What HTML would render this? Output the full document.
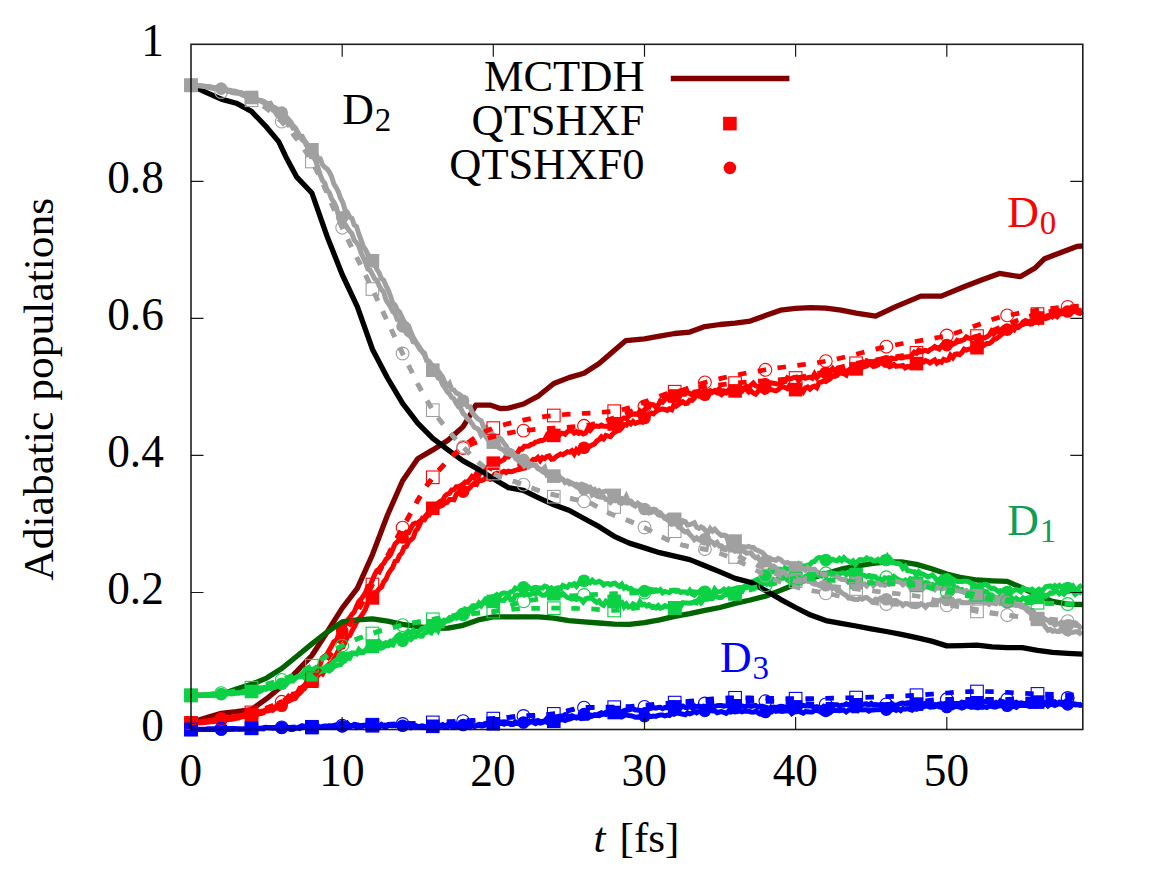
<!DOCTYPE html>
<html><head><meta charset="utf-8"><title>Adiabatic populations</title>
<style>html,body{margin:0;padding:0;background:#fff;}body{width:1163px;height:872px;overflow:hidden;position:relative;font-family:"Liberation Serif",serif;}</style></head>
<body>
<svg width="1163" height="872" viewBox="0 0 1163 872" style="position:absolute;left:0;top:0;display:block;font-kerning:none;font-variant-ligatures:none" font-family="'Liberation Serif', serif">
<rect x="0" y="0" width="1163" height="872" fill="#ffffff"/>
<defs><clipPath id="pc"><rect x="190.5" y="43.8" width="892.8" height="688.2"/></clipPath></defs>
<g id="solid">
<path d="M191.0,722.6 L206.1,717.9 L221.2,713.4 L236.3,711.7 L251.5,709.6 L266.6,698.7 L281.7,686.3 L296.8,671.3 L311.9,655.5 L327.0,632.2 L342.2,608.2 L357.3,588.3 L372.4,554.8 L387.5,515.0 L402.6,480.8 L417.7,458.8 L432.8,449.9 L448.0,440.3 L463.1,426.6 L469.1,416.8 L475.8,405.1 L490.0,405.1 L500.3,408.5 L508.4,408.1 L523.5,404.0 L538.7,395.8 L553.8,383.5 L568.9,377.6 L584.0,373.2 L599.1,363.6 L614.2,350.6 L625.9,340.6 L644.5,338.9 L659.6,336.2 L674.7,333.5 L689.8,332.1 L704.9,326.6 L720.0,324.5 L735.1,323.2 L750.3,321.1 L765.4,315.6 L780.5,310.2 L795.6,308.4 L810.7,307.6 L825.8,308.1 L841.0,310.2 L856.1,313.2 L875.6,316.2 L896.3,306.4 L920.8,296.1 L941.3,296.1 L963.4,287.0 L981.5,280.1 L999.4,273.4 L1020.1,276.7 L1035.5,267.7 L1044.6,258.7 L1061.6,252.2 L1076.8,246.4 L1082.8,246.0" fill="none" stroke="#800000" stroke-width="5.3" stroke-linejoin="round" stroke-linecap="butt"/>
<path d="M191.0,722.9 L193.3,723.0 L195.5,723.0 L197.8,722.9 L200.1,722.8 L202.3,722.7 L204.6,722.4 L206.9,722.3 L209.1,722.0 L211.4,721.7 L213.7,721.5 L215.9,721.2 L218.2,720.9 L220.5,720.5 L222.7,720.0 L225.0,720.0 L227.3,719.4 L229.5,719.5 L231.8,719.2 L234.1,718.9 L236.3,718.3 L238.6,718.1 L240.9,717.0 L243.1,716.5 L245.4,716.2 L247.7,717.1 L249.9,715.4 L252.2,715.0 L254.5,714.7 L256.8,714.9 L259.0,713.7 L261.3,713.5 L263.6,712.6 L265.8,710.1 L268.1,710.7 L270.4,709.1 L272.6,707.2 L274.9,707.2 L277.2,705.3 L279.4,704.4 L281.7,702.1 L284.0,702.2 L286.2,699.3 L288.5,696.4 L290.8,698.3 L293.0,694.0 L295.3,693.8 L297.6,692.5 L299.8,688.2 L302.1,688.2 L304.4,688.5 L306.6,685.6 L308.9,682.7 L311.2,682.6 L313.4,679.7 L315.7,678.9 L318.0,675.4 L320.2,672.7 L322.5,674.1 L324.8,670.0 L327.0,667.5 L329.3,663.8 L331.6,663.2 L333.8,659.2 L336.1,655.2 L338.4,650.4 L340.6,647.6 L342.9,646.9 L345.2,641.9 L347.4,636.7 L349.7,635.6 L352.0,630.8 L354.2,627.0 L356.5,622.3 L358.8,618.8 L361.0,616.3 L363.3,613.0 L365.6,608.9 L367.8,602.7 L370.1,600.8 L372.4,597.3 L374.7,593.6 L376.9,591.7 L379.2,588.8 L381.5,587.1 L383.7,581.8 L386.0,579.2 L388.3,573.6 L390.5,570.4 L392.8,567.2 L395.1,561.3 L397.3,560.5 L399.6,555.2 L401.9,552.9 L404.1,547.3 L406.4,546.4 L408.7,541.6 L410.9,539.9 L413.2,537.7 L415.5,531.0 L417.7,528.6 L420.0,523.9 L422.3,518.6 L424.5,519.6 L426.8,516.3 L429.1,513.4 L431.3,511.0 L433.6,509.4 L435.9,507.4 L438.1,503.2 L440.4,501.2 L442.7,500.4 L444.9,496.2 L447.2,494.2 L449.5,493.4 L451.7,489.9 L454.0,489.7 L456.3,486.7 L458.5,486.8 L460.8,485.7 L463.1,484.2 L465.3,482.0 L467.6,482.3 L469.9,479.4 L472.1,476.3 L474.4,477.8 L476.7,473.1 L478.9,475.1 L481.2,470.6 L483.5,471.1 L485.7,468.0 L488.0,467.0 L490.3,468.2 L492.5,463.5 L494.8,462.3 L497.1,463.8 L499.4,462.1 L501.6,460.7 L503.9,459.8 L506.2,456.0 L508.4,456.8 L510.7,454.4 L513.0,454.3 L515.2,453.3 L517.5,452.8 L519.8,448.9 L522.0,449.2 L524.3,446.2 L526.6,446.3 L528.8,446.0 L531.1,444.4 L533.4,443.9 L535.6,442.1 L537.9,441.6 L540.2,440.5 L542.4,440.6 L544.7,439.6 L547.0,435.2 L549.2,437.2 L551.5,436.9 L553.8,434.6 L556.0,433.7 L558.3,436.0 L560.6,433.3 L562.8,433.2 L565.1,434.2 L567.4,431.6 L569.6,430.9 L571.9,430.7 L574.2,433.1 L576.4,431.6 L578.7,433.3 L581.0,432.4 L583.2,434.0 L585.5,433.1 L587.8,428.6 L590.0,430.5 L592.3,427.6 L594.6,426.3 L596.8,426.1 L599.1,426.5 L601.4,425.2 L603.6,426.3 L605.9,426.3 L608.2,426.2 L610.4,424.2 L612.7,423.6 L615.0,423.1 L617.3,423.3 L619.5,423.3 L621.8,419.5 L624.1,418.0 L626.3,418.6 L628.6,416.3 L630.9,414.6 L633.1,414.2 L635.4,413.9 L637.7,414.5 L639.9,410.9 L642.2,412.7 L644.5,409.7 L646.7,408.5 L649.0,406.3 L651.3,404.4 L653.5,404.8 L655.8,407.1 L658.1,405.4 L660.3,400.9 L662.6,402.1 L664.9,399.6 L667.1,396.3 L669.4,399.8 L671.7,400.3 L673.9,396.9 L676.2,396.2 L678.5,395.4 L680.7,394.6 L683.0,393.9 L685.3,394.2 L687.5,392.2 L689.8,393.5 L692.1,394.9 L694.3,392.1 L696.6,391.8 L698.9,391.2 L701.1,393.1 L703.4,392.2 L705.7,391.7 L707.9,391.9 L710.2,390.6 L712.5,392.0 L714.7,390.6 L717.0,390.6 L719.3,388.7 L721.5,392.2 L723.8,390.8 L726.1,391.8 L728.3,391.4 L730.6,393.3 L732.9,393.1 L735.1,391.5 L737.4,391.5 L739.7,390.5 L742.0,391.3 L744.2,388.7 L746.5,389.5 L748.8,392.0 L751.0,390.8 L753.3,393.0 L755.6,394.2 L757.8,391.7 L760.1,388.9 L762.4,390.9 L764.6,392.4 L766.9,391.6 L769.2,389.3 L771.4,389.7 L773.7,390.4 L776.0,390.8 L778.2,389.6 L780.5,387.6 L782.8,386.7 L785.0,387.5 L787.3,388.6 L789.6,385.6 L791.8,387.7 L794.1,387.0 L796.4,390.7 L798.6,388.9 L800.9,388.9 L803.2,391.7 L805.4,388.0 L807.7,386.9 L810.0,389.0 L812.2,386.9 L814.5,386.0 L816.8,387.7 L819.0,382.7 L821.3,382.1 L823.6,381.0 L825.8,381.5 L828.1,380.0 L830.4,378.6 L832.6,375.7 L834.9,376.3 L837.2,375.5 L839.4,372.6 L841.7,373.4 L844.0,373.7 L846.2,375.1 L848.5,370.1 L850.8,368.8 L853.0,367.8 L855.3,368.1 L857.6,367.3 L859.9,365.4 L862.1,365.6 L864.4,366.7 L866.7,366.0 L868.9,363.8 L871.2,364.7 L873.5,366.6 L875.7,366.0 L878.0,364.9 L880.3,362.3 L882.5,363.4 L884.8,365.1 L887.1,364.9 L889.3,366.7 L891.6,365.9 L893.9,364.5 L896.1,366.4 L898.4,365.9 L900.7,365.9 L902.9,365.5 L905.2,367.8 L907.5,366.5 L909.7,367.1 L912.0,365.0 L914.3,366.3 L916.5,363.9 L918.8,361.8 L921.1,362.4 L923.3,362.2 L925.6,360.6 L927.9,361.4 L930.1,362.9 L932.4,361.4 L934.7,359.9 L936.9,363.2 L939.2,361.5 L941.5,362.3 L943.7,359.3 L946.0,360.4 L948.3,359.8 L950.5,355.3 L952.8,357.7 L955.1,354.2 L957.3,353.9 L959.6,354.7 L961.9,352.6 L964.1,349.1 L966.4,350.1 L968.7,349.2 L970.9,348.9 L973.2,345.7 L975.5,344.1 L977.7,345.0 L980.0,347.2 L982.3,346.5 L984.6,344.9 L986.8,343.6 L989.1,343.6 L991.4,342.1 L993.6,339.5 L995.9,339.0 L998.2,337.3 L1000.4,335.4 L1002.7,333.5 L1005.0,331.8 L1007.2,330.0 L1009.5,329.8 L1011.8,328.9 L1014.0,329.9 L1016.3,325.7 L1018.6,327.1 L1020.8,325.1 L1023.1,321.9 L1025.4,320.5 L1027.6,321.5 L1029.9,323.6 L1032.2,321.0 L1034.4,320.4 L1036.7,317.6 L1039.0,315.1 L1041.2,316.8 L1043.5,316.8 L1045.8,316.6 L1048.0,315.4 L1050.3,315.0 L1052.6,316.8 L1054.8,315.1 L1057.1,316.7 L1059.4,314.1 L1061.6,313.7 L1063.9,313.4 L1066.2,314.3 L1068.4,311.0 L1070.7,311.4 L1073.0,311.4 L1075.2,311.2 L1077.5,312.8 L1079.8,313.5 L1082.0,311.3" fill="none" stroke="#ff0000" stroke-width="5.0" stroke-linejoin="miter" stroke-miterlimit="3"/>
<g fill="#ff0000"><rect x="184.2" y="716.2" width="13.6" height="13.6"/><rect x="244.7" y="707.9" width="13.6" height="13.6"/><rect x="305.1" y="674.4" width="13.6" height="13.6"/><rect x="365.6" y="591.1" width="13.6" height="13.6"/><rect x="426.0" y="501.5" width="13.6" height="13.6"/><rect x="486.5" y="456.4" width="13.6" height="13.6"/><rect x="547.0" y="428.6" width="13.6" height="13.6"/><rect x="607.4" y="417.2" width="13.6" height="13.6"/><rect x="667.9" y="389.2" width="13.6" height="13.6"/><rect x="728.3" y="384.1" width="13.6" height="13.6"/><rect x="788.8" y="382.8" width="13.6" height="13.6"/><rect x="849.3" y="362.1" width="13.6" height="13.6"/><rect x="909.7" y="356.8" width="13.6" height="13.6"/><rect x="970.2" y="340.9" width="13.6" height="13.6"/><rect x="1030.7" y="311.2" width="13.6" height="13.6"/></g>
<path d="M191.0,723.1 L193.3,722.7 L195.5,722.5 L197.8,722.0 L200.1,721.8 L202.3,721.4 L204.6,721.1 L206.9,721.0 L209.1,720.6 L211.4,720.2 L213.7,719.8 L215.9,719.6 L218.2,718.9 L220.5,718.8 L222.7,718.8 L225.0,718.6 L227.3,718.0 L229.5,717.6 L231.8,717.3 L234.1,716.4 L236.3,716.2 L238.6,715.7 L240.9,715.9 L243.1,715.0 L245.4,714.2 L247.7,713.0 L249.9,714.0 L252.2,712.9 L254.5,712.3 L256.8,710.8 L259.0,711.9 L261.3,711.3 L263.6,710.7 L265.8,711.1 L268.1,710.6 L270.4,710.0 L272.6,710.4 L274.9,708.8 L277.2,707.2 L279.4,705.8 L281.7,705.2 L284.0,705.2 L286.2,702.4 L288.5,701.1 L290.8,700.1 L293.0,699.0 L295.3,698.4 L297.6,695.0 L299.8,693.4 L302.1,690.7 L304.4,687.7 L306.6,681.3 L308.9,679.3 L311.2,675.7 L313.4,674.8 L315.7,669.4 L318.0,667.7 L320.2,664.3 L322.5,657.8 L324.8,656.1 L327.0,654.2 L329.3,650.0 L331.6,646.1 L333.8,641.8 L336.1,640.3 L338.4,636.7 L340.6,632.2 L342.9,628.4 L345.2,624.8 L347.4,620.3 L349.7,617.6 L352.0,614.3 L354.2,611.9 L356.5,606.4 L358.8,601.4 L361.0,599.2 L363.3,596.0 L365.6,592.3 L367.8,586.4 L370.1,585.6 L372.4,580.0 L374.7,574.5 L376.9,570.5 L379.2,569.0 L381.5,565.6 L383.7,563.5 L386.0,559.3 L388.3,557.2 L390.5,554.6 L392.8,549.2 L395.1,543.8 L397.3,542.0 L399.6,539.3 L401.9,535.5 L404.1,535.7 L406.4,532.2 L408.7,532.5 L410.9,528.2 L413.2,524.0 L415.5,523.0 L417.7,523.5 L420.0,521.0 L422.3,519.5 L424.5,517.2 L426.8,514.5 L429.1,514.9 L431.3,511.3 L433.6,510.0 L435.9,507.0 L438.1,506.9 L440.4,506.2 L442.7,505.1 L444.9,502.7 L447.2,502.4 L449.5,499.5 L451.7,499.4 L454.0,499.8 L456.3,494.4 L458.5,492.3 L460.8,490.9 L463.1,490.4 L465.3,488.3 L467.6,489.6 L469.9,487.6 L472.1,485.3 L474.4,483.0 L476.7,484.2 L478.9,479.7 L481.2,480.5 L483.5,479.7 L485.7,477.6 L488.0,478.6 L490.3,479.4 L492.5,477.1 L494.8,474.0 L497.1,473.1 L499.4,473.8 L501.6,472.3 L503.9,471.2 L506.2,472.5 L508.4,471.2 L510.7,471.6 L513.0,471.2 L515.2,470.5 L517.5,469.7 L519.8,469.3 L522.0,468.5 L524.3,466.8 L526.6,463.2 L528.8,463.3 L531.1,461.6 L533.4,459.4 L535.6,459.6 L537.9,457.4 L540.2,460.5 L542.4,457.5 L544.7,458.5 L547.0,456.4 L549.2,455.8 L551.5,459.2 L553.8,458.9 L556.0,456.7 L558.3,455.3 L560.6,453.9 L562.8,454.7 L565.1,453.4 L567.4,451.7 L569.6,452.3 L571.9,450.7 L574.2,454.0 L576.4,449.9 L578.7,452.4 L581.0,449.7 L583.2,449.2 L585.5,448.3 L587.8,447.1 L590.0,446.3 L592.3,444.8 L594.6,444.0 L596.8,441.0 L599.1,439.6 L601.4,436.8 L603.6,438.7 L605.9,435.4 L608.2,436.1 L610.4,436.7 L612.7,433.9 L615.0,431.9 L617.3,430.9 L619.5,430.3 L621.8,428.0 L624.1,424.6 L626.3,425.1 L628.6,422.0 L630.9,423.9 L633.1,421.4 L635.4,423.4 L637.7,422.4 L639.9,421.9 L642.2,422.3 L644.5,418.0 L646.7,418.9 L649.0,414.4 L651.3,413.0 L653.5,413.9 L655.8,411.6 L658.1,410.0 L660.3,409.5 L662.6,409.0 L664.9,409.5 L667.1,410.4 L669.4,408.8 L671.7,409.7 L673.9,404.9 L676.2,406.0 L678.5,404.4 L680.7,403.2 L683.0,401.7 L685.3,403.5 L687.5,403.1 L689.8,400.1 L692.1,400.4 L694.3,398.3 L696.6,393.8 L698.9,395.8 L701.1,393.5 L703.4,396.2 L705.7,393.8 L707.9,393.4 L710.2,393.2 L712.5,392.0 L714.7,391.3 L717.0,393.0 L719.3,393.4 L721.5,394.7 L723.8,392.6 L726.1,393.0 L728.3,390.4 L730.6,391.5 L732.9,388.8 L735.1,393.1 L737.4,390.0 L739.7,387.6 L742.0,388.5 L744.2,388.2 L746.5,386.2 L748.8,387.4 L751.0,385.0 L753.3,383.0 L755.6,385.8 L757.8,386.7 L760.1,386.0 L762.4,384.9 L764.6,383.4 L766.9,384.9 L769.2,383.1 L771.4,382.7 L773.7,383.3 L776.0,383.7 L778.2,384.1 L780.5,383.5 L782.8,382.1 L785.0,381.7 L787.3,377.8 L789.6,379.1 L791.8,378.3 L794.1,377.4 L796.4,377.2 L798.6,380.9 L800.9,377.5 L803.2,376.9 L805.4,378.3 L807.7,377.7 L810.0,377.1 L812.2,378.2 L814.5,374.0 L816.8,377.8 L819.0,375.6 L821.3,374.5 L823.6,373.6 L825.8,372.5 L828.1,371.9 L830.4,371.1 L832.6,368.5 L834.9,371.5 L837.2,368.8 L839.4,369.5 L841.7,369.0 L844.0,370.2 L846.2,371.6 L848.5,371.1 L850.8,368.6 L853.0,368.5 L855.3,368.9 L857.6,365.5 L859.9,363.8 L862.1,367.4 L864.4,364.4 L866.7,360.9 L868.9,361.7 L871.2,361.5 L873.5,361.9 L875.7,360.9 L878.0,361.4 L880.3,361.1 L882.5,359.1 L884.8,359.6 L887.1,359.1 L889.3,360.1 L891.6,358.0 L893.9,358.8 L896.1,358.6 L898.4,357.1 L900.7,357.9 L902.9,357.8 L905.2,357.0 L907.5,356.7 L909.7,356.6 L912.0,354.9 L914.3,352.2 L916.5,353.3 L918.8,350.1 L921.1,351.2 L923.3,350.6 L925.6,350.4 L927.9,351.3 L930.1,349.7 L932.4,348.5 L934.7,346.5 L936.9,347.9 L939.2,349.1 L941.5,345.9 L943.7,346.5 L946.0,345.5 L948.3,342.7 L950.5,342.4 L952.8,344.4 L955.1,343.3 L957.3,340.3 L959.6,341.1 L961.9,340.3 L964.1,339.6 L966.4,336.9 L968.7,338.1 L970.9,338.6 L973.2,337.6 L975.5,338.7 L977.7,339.1 L980.0,340.0 L982.3,337.7 L984.6,337.9 L986.8,336.8 L989.1,335.3 L991.4,331.4 L993.6,334.0 L995.9,331.7 L998.2,331.7 L1000.4,330.3 L1002.7,328.5 L1005.0,329.8 L1007.2,329.1 L1009.5,330.2 L1011.8,328.8 L1014.0,326.0 L1016.3,326.1 L1018.6,326.2 L1020.8,325.2 L1023.1,324.4 L1025.4,323.3 L1027.6,323.4 L1029.9,321.6 L1032.2,323.6 L1034.4,322.3 L1036.7,317.8 L1039.0,322.0 L1041.2,320.0 L1043.5,318.5 L1045.8,318.6 L1048.0,317.9 L1050.3,315.8 L1052.6,314.1 L1054.8,312.9 L1057.1,313.8 L1059.4,310.8 L1061.6,311.5 L1063.9,310.9 L1066.2,309.8 L1068.4,309.4 L1070.7,309.8 L1073.0,311.6 L1075.2,310.5 L1077.5,310.4 L1079.8,310.6 L1082.0,310.0" fill="none" stroke="#ff0000" stroke-width="5.0" stroke-linejoin="miter" stroke-miterlimit="3"/>
<g fill="#ff0000"><circle cx="221.2" cy="718.6" r="6.3"/><circle cx="281.7" cy="705.7" r="6.3"/><circle cx="342.2" cy="630.9" r="6.3"/><circle cx="402.6" cy="537.4" r="6.3"/><circle cx="463.1" cy="491.6" r="6.3"/><circle cx="523.5" cy="464.5" r="6.3"/><circle cx="584.0" cy="447.7" r="6.3"/><circle cx="644.5" cy="418.0" r="6.3"/><circle cx="704.9" cy="394.8" r="6.3"/><circle cx="765.4" cy="384.4" r="6.3"/><circle cx="825.8" cy="372.8" r="6.3"/><circle cx="886.3" cy="361.3" r="6.3"/><circle cx="946.8" cy="345.1" r="6.3"/><circle cx="1007.2" cy="329.6" r="6.3"/><circle cx="1067.7" cy="311.5" r="6.3"/></g>
<path d="M191.0,695.2 L206.1,695.2 L221.2,694.6 L236.3,689.1 L251.5,684.3 L266.6,678.1 L281.7,668.5 L296.8,656.2 L311.9,643.9 L327.0,632.2 L342.2,621.9 L357.3,619.9 L372.4,618.8 L387.5,621.2 L402.6,624.3 L417.7,626.7 L432.8,628.3 L448.0,628.1 L463.1,625.3 L478.2,619.9 L493.3,616.8 L508.4,616.8 L523.5,616.8 L538.7,616.8 L553.8,618.2 L568.9,620.6 L584.0,621.9 L599.1,623.0 L614.2,624.2 L629.3,624.3 L644.5,622.6 L659.6,619.9 L674.7,616.4 L689.8,613.7 L704.9,610.3 L720.0,607.5 L735.1,603.4 L750.3,600.0 L765.4,596.2 L780.5,590.4 L795.6,584.2 L810.7,578.4 L825.8,573.6 L841.0,569.2 L856.1,566.1 L871.2,563.7 L886.3,561.9 L901.4,561.9 L916.5,564.4 L931.6,568.8 L946.8,574.0 L961.9,577.7 L977.0,580.0 L992.1,580.8 L1007.2,581.3 L1022.3,588.0 L1037.5,595.4 L1052.6,601.4 L1067.7,604.2 L1082.8,604.5" fill="none" stroke="#006400" stroke-width="5.3" stroke-linejoin="round" stroke-linecap="butt"/>
<path d="M191.0,695.5 L193.3,695.6 L195.5,695.5 L197.8,695.3 L200.1,695.4 L202.3,695.3 L204.6,695.0 L206.9,695.2 L209.1,694.9 L211.4,694.7 L213.7,694.6 L215.9,694.8 L218.2,694.6 L220.5,694.4 L222.7,694.2 L225.0,694.1 L227.3,693.8 L229.5,693.2 L231.8,693.2 L234.1,692.9 L236.3,692.7 L238.6,693.2 L240.9,692.7 L243.1,691.5 L245.4,692.0 L247.7,692.5 L249.9,692.0 L252.2,692.1 L254.5,691.9 L256.8,691.4 L259.0,691.8 L261.3,690.8 L263.6,689.1 L265.8,689.4 L268.1,688.0 L270.4,688.5 L272.6,688.1 L274.9,687.4 L277.2,685.3 L279.4,686.9 L281.7,686.3 L284.0,685.1 L286.2,683.3 L288.5,681.2 L290.8,680.8 L293.0,677.8 L295.3,677.9 L297.6,676.5 L299.8,676.4 L302.1,676.0 L304.4,677.7 L306.6,676.4 L308.9,676.4 L311.2,675.6 L313.4,677.2 L315.7,672.7 L318.0,673.1 L320.2,671.7 L322.5,670.7 L324.8,670.5 L327.0,669.5 L329.3,670.9 L331.6,669.3 L333.8,666.6 L336.1,665.6 L338.4,664.9 L340.6,664.7 L342.9,662.0 L345.2,660.7 L347.4,657.3 L349.7,658.1 L352.0,653.6 L354.2,653.1 L356.5,653.9 L358.8,649.8 L361.0,652.6 L363.3,652.3 L365.6,650.0 L367.8,647.2 L370.1,645.7 L372.4,646.2 L374.7,643.8 L376.9,646.0 L379.2,641.6 L381.5,643.6 L383.7,644.0 L386.0,642.7 L388.3,643.1 L390.5,641.0 L392.8,641.1 L395.1,638.8 L397.3,635.9 L399.6,634.4 L401.9,635.4 L404.1,634.9 L406.4,633.9 L408.7,631.7 L410.9,634.1 L413.2,630.4 L415.5,632.1 L417.7,631.6 L420.0,630.5 L422.3,628.2 L424.5,627.8 L426.8,626.2 L429.1,626.4 L431.3,625.1 L433.6,623.3 L435.9,624.2 L438.1,621.8 L440.4,621.8 L442.7,620.8 L444.9,620.8 L447.2,620.1 L449.5,617.8 L451.7,619.2 L454.0,616.6 L456.3,615.0 L458.5,613.8 L460.8,616.3 L463.1,613.2 L465.3,612.1 L467.6,612.0 L469.9,609.3 L472.1,611.9 L474.4,605.9 L476.7,606.7 L478.9,603.1 L481.2,605.7 L483.5,602.5 L485.7,603.1 L488.0,600.5 L490.3,602.2 L492.5,601.3 L494.8,597.2 L497.1,600.6 L499.4,599.9 L501.6,600.2 L503.9,600.4 L506.2,597.5 L508.4,596.5 L510.7,600.0 L513.0,600.1 L515.2,595.8 L517.5,595.0 L519.8,594.8 L522.0,593.9 L524.3,595.1 L526.6,593.9 L528.8,595.0 L531.1,594.2 L533.4,592.4 L535.6,594.2 L537.9,590.9 L540.2,593.8 L542.4,595.2 L544.7,595.3 L547.0,593.2 L549.2,595.6 L551.5,597.1 L553.8,595.9 L556.0,593.6 L558.3,594.8 L560.6,595.3 L562.8,593.6 L565.1,595.7 L567.4,597.5 L569.6,598.1 L571.9,599.2 L574.2,598.5 L576.4,599.5 L578.7,598.5 L581.0,599.3 L583.2,601.9 L585.5,598.9 L587.8,598.1 L590.0,598.3 L592.3,598.5 L594.6,600.8 L596.8,602.4 L599.1,600.9 L601.4,604.1 L603.6,605.4 L605.9,601.3 L608.2,602.8 L610.4,600.9 L612.7,603.1 L615.0,603.0 L617.3,603.5 L619.5,602.1 L621.8,602.1 L624.1,606.8 L626.3,604.0 L628.6,607.1 L630.9,606.6 L633.1,604.0 L635.4,605.2 L637.7,606.1 L639.9,601.7 L642.2,604.9 L644.5,604.3 L646.7,606.0 L649.0,604.7 L651.3,606.6 L653.5,606.3 L655.8,607.8 L658.1,605.6 L660.3,608.2 L662.6,607.5 L664.9,605.6 L667.1,606.6 L669.4,606.9 L671.7,604.4 L673.9,607.3 L676.2,608.0 L678.5,605.1 L680.7,606.4 L683.0,602.7 L685.3,602.9 L687.5,603.0 L689.8,603.2 L692.1,602.7 L694.3,601.8 L696.6,602.9 L698.9,599.5 L701.1,602.6 L703.4,599.8 L705.7,598.9 L707.9,599.2 L710.2,598.2 L712.5,598.6 L714.7,595.9 L717.0,597.0 L719.3,597.7 L721.5,597.3 L723.8,595.4 L726.1,594.2 L728.3,595.2 L730.6,593.3 L732.9,590.9 L735.1,591.6 L737.4,590.8 L739.7,591.7 L742.0,591.5 L744.2,587.6 L746.5,587.7 L748.8,584.5 L751.0,586.1 L753.3,583.9 L755.6,583.6 L757.8,583.6 L760.1,583.4 L762.4,583.7 L764.6,583.3 L766.9,584.3 L769.2,583.3 L771.4,583.5 L773.7,579.6 L776.0,581.0 L778.2,578.3 L780.5,578.7 L782.8,578.2 L785.0,575.9 L787.3,579.9 L789.6,581.5 L791.8,581.2 L794.1,580.3 L796.4,577.6 L798.6,579.4 L800.9,577.7 L803.2,578.4 L805.4,576.4 L807.7,575.5 L810.0,573.1 L812.2,575.8 L814.5,574.1 L816.8,574.8 L819.0,575.6 L821.3,573.7 L823.6,573.2 L825.8,576.4 L828.1,572.8 L830.4,572.9 L832.6,574.4 L834.9,576.1 L837.2,573.8 L839.4,574.0 L841.7,572.9 L844.0,572.9 L846.2,574.7 L848.5,572.5 L850.8,573.9 L853.0,573.8 L855.3,574.4 L857.6,573.2 L859.9,572.8 L862.1,575.0 L864.4,575.4 L866.7,576.6 L868.9,575.6 L871.2,577.7 L873.5,577.3 L875.7,576.9 L878.0,579.4 L880.3,578.7 L882.5,580.6 L884.8,577.8 L887.1,578.3 L889.3,579.2 L891.6,578.5 L893.9,576.5 L896.1,578.3 L898.4,579.6 L900.7,580.6 L902.9,581.7 L905.2,580.1 L907.5,582.2 L909.7,579.6 L912.0,583.4 L914.3,581.6 L916.5,583.5 L918.8,580.8 L921.1,583.1 L923.3,583.4 L925.6,582.6 L927.9,582.9 L930.1,584.9 L932.4,584.5 L934.7,586.5 L936.9,584.2 L939.2,583.8 L941.5,583.6 L943.7,585.3 L946.0,583.9 L948.3,584.3 L950.5,583.6 L952.8,583.6 L955.1,589.1 L957.3,588.0 L959.6,589.9 L961.9,589.4 L964.1,592.1 L966.4,592.3 L968.7,593.9 L970.9,591.9 L973.2,594.1 L975.5,594.6 L977.7,593.7 L980.0,592.8 L982.3,593.5 L984.6,591.5 L986.8,591.9 L989.1,594.9 L991.4,594.8 L993.6,596.4 L995.9,599.4 L998.2,598.7 L1000.4,595.6 L1002.7,594.2 L1005.0,596.3 L1007.2,596.3 L1009.5,597.1 L1011.8,597.9 L1014.0,600.6 L1016.3,598.3 L1018.6,599.8 L1020.8,600.3 L1023.1,597.9 L1025.4,599.3 L1027.6,597.8 L1029.9,597.4 L1032.2,597.6 L1034.4,598.6 L1036.7,597.4 L1039.0,597.6 L1041.2,593.9 L1043.5,594.8 L1045.8,596.3 L1048.0,594.9 L1050.3,592.9 L1052.6,593.3 L1054.8,591.3 L1057.1,591.4 L1059.4,593.8 L1061.6,592.2 L1063.9,594.1 L1066.2,591.5 L1068.4,591.3 L1070.7,588.7 L1073.0,591.2 L1075.2,594.3 L1077.5,592.3 L1079.8,592.2 L1082.0,593.4" fill="none" stroke="#0dd145" stroke-width="5.0" stroke-linejoin="miter" stroke-miterlimit="3"/>
<g fill="#0dd145"><rect x="184.2" y="688.6" width="13.6" height="13.6"/><rect x="244.7" y="684.7" width="13.6" height="13.6"/><rect x="305.1" y="668.0" width="13.6" height="13.6"/><rect x="365.6" y="639.6" width="13.6" height="13.6"/><rect x="426.0" y="619.0" width="13.6" height="13.6"/><rect x="486.5" y="594.6" width="13.6" height="13.6"/><rect x="547.0" y="587.0" width="13.6" height="13.6"/><rect x="607.4" y="594.6" width="13.6" height="13.6"/><rect x="667.9" y="601.1" width="13.6" height="13.6"/><rect x="728.3" y="586.7" width="13.6" height="13.6"/><rect x="788.8" y="571.8" width="13.6" height="13.6"/><rect x="849.3" y="567.8" width="13.6" height="13.6"/><rect x="909.7" y="576.4" width="13.6" height="13.6"/><rect x="970.2" y="586.0" width="13.6" height="13.6"/><rect x="1030.7" y="590.5" width="13.6" height="13.6"/></g>
<path d="M191.0,695.5 L193.3,695.5 L195.5,695.5 L197.8,695.5 L200.1,695.5 L202.3,695.3 L204.6,695.1 L206.9,695.0 L209.1,694.9 L211.4,694.7 L213.7,694.4 L215.9,694.4 L218.2,694.1 L220.5,694.0 L222.7,694.4 L225.0,693.7 L227.3,693.8 L229.5,693.5 L231.8,693.9 L234.1,693.6 L236.3,693.1 L238.6,692.8 L240.9,692.7 L243.1,692.3 L245.4,692.4 L247.7,691.8 L249.9,690.7 L252.2,689.7 L254.5,689.4 L256.8,688.8 L259.0,687.8 L261.3,687.9 L263.6,687.6 L265.8,687.1 L268.1,687.3 L270.4,686.6 L272.6,685.9 L274.9,684.8 L277.2,684.0 L279.4,684.6 L281.7,685.3 L284.0,683.5 L286.2,684.4 L288.5,681.8 L290.8,680.7 L293.0,681.0 L295.3,678.6 L297.6,676.9 L299.8,676.4 L302.1,673.6 L304.4,671.8 L306.6,673.6 L308.9,669.7 L311.2,669.7 L313.4,669.2 L315.7,667.8 L318.0,670.4 L320.2,669.0 L322.5,669.0 L324.8,667.7 L327.0,665.8 L329.3,666.4 L331.6,663.9 L333.8,661.6 L336.1,660.1 L338.4,658.2 L340.6,659.3 L342.9,656.4 L345.2,655.6 L347.4,654.0 L349.7,654.2 L352.0,652.9 L354.2,653.6 L356.5,653.4 L358.8,652.4 L361.0,651.1 L363.3,652.2 L365.6,650.0 L367.8,649.7 L370.1,650.3 L372.4,650.3 L374.7,648.6 L376.9,648.6 L379.2,648.0 L381.5,648.1 L383.7,647.0 L386.0,645.6 L388.3,645.8 L390.5,644.6 L392.8,645.1 L395.1,640.5 L397.3,640.5 L399.6,642.3 L401.9,639.6 L404.1,639.9 L406.4,637.1 L408.7,638.6 L410.9,639.5 L413.2,637.0 L415.5,636.9 L417.7,633.7 L420.0,636.2 L422.3,636.0 L424.5,632.7 L426.8,632.4 L429.1,631.3 L431.3,632.7 L433.6,628.5 L435.9,626.5 L438.1,630.1 L440.4,624.3 L442.7,625.5 L444.9,620.3 L447.2,621.1 L449.5,620.3 L451.7,617.7 L454.0,617.9 L456.3,618.3 L458.5,615.9 L460.8,615.7 L463.1,615.4 L465.3,609.1 L467.6,610.2 L469.9,608.7 L472.1,606.4 L474.4,607.7 L476.7,606.5 L478.9,604.3 L481.2,603.6 L483.5,601.8 L485.7,598.9 L488.0,599.4 L490.3,598.0 L492.5,596.7 L494.8,597.4 L497.1,594.7 L499.4,595.9 L501.6,593.7 L503.9,592.8 L506.2,593.4 L508.4,594.1 L510.7,591.8 L513.0,591.4 L515.2,588.1 L517.5,588.9 L519.8,589.5 L522.0,587.1 L524.3,587.6 L526.6,589.4 L528.8,587.4 L531.1,589.3 L533.4,587.8 L535.6,587.4 L537.9,587.8 L540.2,587.9 L542.4,588.2 L544.7,586.1 L547.0,586.9 L549.2,590.1 L551.5,587.9 L553.8,589.6 L556.0,588.4 L558.3,587.7 L560.6,588.8 L562.8,585.5 L565.1,586.6 L567.4,587.3 L569.6,584.5 L571.9,585.4 L574.2,583.8 L576.4,586.3 L578.7,583.1 L581.0,583.7 L583.2,582.6 L585.5,582.6 L587.8,581.7 L590.0,582.7 L592.3,580.2 L594.6,582.4 L596.8,582.3 L599.1,581.2 L601.4,582.5 L603.6,585.0 L605.9,583.6 L608.2,583.5 L610.4,584.9 L612.7,583.5 L615.0,583.1 L617.3,585.3 L619.5,586.5 L621.8,584.2 L624.1,588.1 L626.3,586.8 L628.6,588.8 L630.9,588.4 L633.1,590.6 L635.4,590.8 L637.7,591.3 L639.9,591.2 L642.2,592.2 L644.5,593.0 L646.7,590.2 L649.0,589.0 L651.3,589.4 L653.5,589.9 L655.8,589.7 L658.1,590.9 L660.3,589.6 L662.6,592.9 L664.9,591.4 L667.1,592.1 L669.4,592.6 L671.7,590.5 L673.9,590.4 L676.2,591.6 L678.5,590.7 L680.7,592.5 L683.0,591.8 L685.3,592.0 L687.5,593.2 L689.8,590.5 L692.1,594.0 L694.3,595.2 L696.6,592.9 L698.9,592.0 L701.1,589.9 L703.4,591.8 L705.7,592.9 L707.9,590.8 L710.2,592.7 L712.5,593.8 L714.7,589.2 L717.0,592.0 L719.3,591.8 L721.5,591.1 L723.8,589.3 L726.1,591.2 L728.3,589.3 L730.6,591.9 L732.9,591.2 L735.1,588.5 L737.4,587.8 L739.7,587.5 L742.0,587.7 L744.2,586.4 L746.5,585.4 L748.8,582.8 L751.0,582.5 L753.3,581.3 L755.6,580.3 L757.8,579.0 L760.1,578.4 L762.4,576.1 L764.6,576.4 L766.9,573.7 L769.2,570.5 L771.4,572.0 L773.7,571.7 L776.0,569.2 L778.2,569.3 L780.5,569.3 L782.8,571.3 L785.0,567.9 L787.3,569.2 L789.6,569.3 L791.8,567.7 L794.1,568.0 L796.4,566.6 L798.6,564.1 L800.9,566.9 L803.2,565.9 L805.4,566.4 L807.7,565.0 L810.0,564.4 L812.2,561.9 L814.5,561.4 L816.8,558.7 L819.0,557.4 L821.3,558.2 L823.6,558.6 L825.8,560.9 L828.1,558.9 L830.4,560.8 L832.6,559.4 L834.9,560.3 L837.2,560.8 L839.4,558.5 L841.7,560.5 L844.0,557.7 L846.2,559.9 L848.5,561.1 L850.8,562.8 L853.0,561.0 L855.3,564.4 L857.6,561.5 L859.9,559.5 L862.1,559.7 L864.4,560.1 L866.7,557.9 L868.9,559.5 L871.2,559.1 L873.5,560.9 L875.7,560.8 L878.0,559.4 L880.3,561.5 L882.5,558.4 L884.8,560.5 L887.1,556.9 L889.3,561.5 L891.6,560.8 L893.9,562.7 L896.1,563.5 L898.4,563.3 L900.7,564.6 L902.9,568.4 L905.2,566.3 L907.5,570.5 L909.7,570.9 L912.0,571.5 L914.3,571.7 L916.5,575.4 L918.8,571.8 L921.1,573.8 L923.3,574.1 L925.6,575.7 L927.9,576.9 L930.1,576.0 L932.4,575.0 L934.7,577.3 L936.9,580.3 L939.2,579.6 L941.5,577.4 L943.7,580.4 L946.0,580.5 L948.3,577.5 L950.5,578.2 L952.8,579.1 L955.1,580.4 L957.3,581.5 L959.6,581.4 L961.9,581.4 L964.1,581.3 L966.4,581.2 L968.7,581.8 L970.9,583.3 L973.2,583.8 L975.5,585.3 L977.7,586.5 L980.0,585.0 L982.3,585.1 L984.6,584.3 L986.8,584.5 L989.1,587.0 L991.4,588.5 L993.6,588.1 L995.9,589.5 L998.2,591.4 L1000.4,590.7 L1002.7,591.9 L1005.0,592.0 L1007.2,591.1 L1009.5,588.6 L1011.8,591.8 L1014.0,590.5 L1016.3,589.7 L1018.6,590.3 L1020.8,591.8 L1023.1,588.0 L1025.4,589.6 L1027.6,589.6 L1029.9,590.3 L1032.2,589.2 L1034.4,590.9 L1036.7,590.8 L1039.0,589.2 L1041.2,590.4 L1043.5,589.5 L1045.8,586.8 L1048.0,586.2 L1050.3,585.9 L1052.6,587.8 L1054.8,585.6 L1057.1,586.8 L1059.4,585.4 L1061.6,587.5 L1063.9,585.9 L1066.2,586.9 L1068.4,589.1 L1070.7,588.5 L1073.0,586.1 L1075.2,589.3 L1077.5,589.4 L1079.8,586.7 L1082.0,585.1" fill="none" stroke="#0dd145" stroke-width="5.0" stroke-linejoin="miter" stroke-miterlimit="3"/>
<g fill="#0dd145"><circle cx="221.2" cy="694.1" r="6.3"/><circle cx="281.7" cy="683.8" r="6.3"/><circle cx="342.2" cy="657.6" r="6.3"/><circle cx="402.6" cy="640.7" r="6.3"/><circle cx="463.1" cy="614.1" r="6.3"/><circle cx="523.5" cy="587.2" r="6.3"/><circle cx="584.0" cy="580.8" r="6.3"/><circle cx="644.5" cy="591.1" r="6.3"/><circle cx="704.9" cy="592.4" r="6.3"/><circle cx="765.4" cy="575.7" r="6.3"/><circle cx="825.8" cy="560.0" r="6.3"/><circle cx="886.3" cy="560.0" r="6.3"/><circle cx="946.8" cy="579.4" r="6.3"/><circle cx="1007.2" cy="592.0" r="6.3"/><circle cx="1067.7" cy="588.0" r="6.3"/></g>
<path d="M191.0,85.4 L206.1,92.3 L221.2,99.1 L236.3,103.2 L251.5,111.4 L266.6,127.2 L278.7,141.6 L285.8,156.7 L296.8,177.2 L311.9,193.0 L327.0,236.2 L342.2,274.5 L357.3,306.7 L372.4,349.2 L387.5,378.0 L402.6,403.3 L417.7,423.2 L432.8,438.3 L448.0,449.9 L463.1,460.9 L478.2,469.1 L493.3,478.7 L508.4,487.6 L523.5,490.4 L538.7,497.9 L553.8,504.8 L568.9,510.2 L584.0,518.5 L599.1,526.7 L614.2,536.3 L629.3,543.1 L644.5,547.9 L659.6,552.7 L674.7,556.1 L689.8,559.6 L704.9,565.7 L720.0,571.9 L735.1,578.4 L750.3,582.2 L765.4,590.4 L780.5,599.3 L795.6,607.5 L810.7,615.1 L825.8,620.6 L841.0,623.3 L856.1,626.0 L871.2,628.8 L886.3,631.5 L901.4,634.3 L916.5,637.7 L931.6,641.1 L946.8,645.9 L961.9,645.6 L977.0,645.2 L992.1,646.9 L1007.2,647.7 L1022.3,647.7 L1037.5,650.4 L1052.6,652.4 L1067.7,653.4 L1082.8,654.1" fill="none" stroke="#000000" stroke-width="5.3" stroke-linejoin="round" stroke-linecap="butt"/>
<path d="M191.0,85.4 L193.3,85.3 L195.5,85.5 L197.8,85.5 L200.1,85.7 L202.3,85.9 L204.6,86.2 L206.9,86.5 L209.1,86.6 L211.4,87.2 L213.7,87.5 L215.9,88.0 L218.2,88.2 L220.5,88.7 L222.7,89.0 L225.0,89.5 L227.3,90.7 L229.5,90.6 L231.8,91.3 L234.1,92.2 L236.3,93.3 L238.6,93.2 L240.9,94.3 L243.1,95.4 L245.4,96.0 L247.7,96.3 L249.9,96.5 L252.2,97.0 L254.5,98.3 L256.8,99.8 L259.0,100.5 L261.3,101.5 L263.6,102.3 L265.8,105.4 L268.1,105.6 L270.4,107.3 L272.6,109.9 L274.9,111.5 L277.2,115.3 L279.4,117.0 L281.7,118.4 L284.0,118.3 L286.2,120.9 L288.5,124.8 L290.8,124.3 L293.0,128.3 L295.3,128.3 L297.6,132.4 L299.8,136.0 L302.1,136.2 L304.4,140.4 L306.6,143.5 L308.9,146.9 L311.2,147.8 L313.4,149.6 L315.7,153.3 L318.0,158.5 L320.2,158.6 L322.5,164.7 L324.8,167.4 L327.0,168.8 L329.3,171.9 L331.6,176.6 L333.8,183.8 L336.1,187.4 L338.4,191.9 L340.6,198.2 L342.9,202.6 L345.2,210.5 L347.4,212.4 L349.7,217.1 L352.0,218.5 L354.2,225.0 L356.5,226.6 L358.8,234.0 L361.0,239.8 L363.3,246.3 L365.6,249.8 L367.8,254.2 L370.1,256.7 L372.4,260.1 L374.7,264.7 L376.9,269.2 L379.2,273.0 L381.5,278.7 L383.7,280.2 L386.0,285.8 L388.3,290.0 L390.5,296.2 L392.8,303.3 L395.1,305.1 L397.3,310.1 L399.6,312.1 L401.9,317.1 L404.1,321.6 L406.4,323.9 L408.7,326.0 L410.9,332.3 L413.2,337.4 L415.5,341.1 L417.7,345.8 L420.0,349.4 L422.3,351.7 L424.5,353.2 L426.8,360.4 L429.1,361.3 L431.3,364.4 L433.6,368.6 L435.9,372.8 L438.1,378.0 L440.4,379.2 L442.7,384.8 L444.9,387.8 L447.2,391.6 L449.5,393.9 L451.7,397.3 L454.0,399.0 L456.3,403.5 L458.5,406.7 L460.8,408.4 L463.1,413.4 L465.3,415.4 L467.6,419.0 L469.9,420.6 L472.1,423.8 L474.4,427.2 L476.7,428.2 L478.9,429.9 L481.2,435.1 L483.5,432.5 L485.7,436.7 L488.0,439.5 L490.3,438.2 L492.5,442.3 L494.8,444.0 L497.1,441.3 L499.4,447.9 L501.6,448.9 L503.9,450.3 L506.2,453.5 L508.4,454.0 L510.7,454.8 L513.0,453.0 L515.2,458.0 L517.5,460.1 L519.8,460.2 L522.0,462.8 L524.3,466.1 L526.6,465.0 L528.8,466.8 L531.1,465.2 L533.4,465.0 L535.6,465.3 L537.9,467.9 L540.2,469.5 L542.4,471.7 L544.7,472.7 L547.0,474.5 L549.2,476.4 L551.5,476.0 L553.8,477.7 L556.0,475.7 L558.3,474.9 L560.6,478.1 L562.8,479.7 L565.1,481.7 L567.4,480.9 L569.6,481.9 L571.9,483.8 L574.2,485.1 L576.4,484.3 L578.7,485.6 L581.0,484.5 L583.2,487.7 L585.5,487.1 L587.8,487.8 L590.0,487.2 L592.3,490.4 L594.6,489.3 L596.8,492.3 L599.1,490.6 L601.4,492.4 L603.6,491.6 L605.9,491.0 L608.2,491.4 L610.4,495.4 L612.7,494.2 L615.0,496.5 L617.3,494.5 L619.5,498.9 L621.8,498.5 L624.1,501.1 L626.3,496.5 L628.6,501.8 L630.9,501.1 L633.1,503.5 L635.4,505.4 L637.7,503.2 L639.9,504.6 L642.2,506.0 L644.5,505.9 L646.7,508.7 L649.0,508.6 L651.3,509.8 L653.5,509.2 L655.8,509.8 L658.1,512.2 L660.3,512.8 L662.6,515.7 L664.9,517.9 L667.1,516.4 L669.4,520.0 L671.7,520.6 L673.9,520.4 L676.2,521.0 L678.5,518.7 L680.7,524.2 L683.0,520.8 L685.3,521.6 L687.5,525.1 L689.8,524.7 L692.1,523.7 L694.3,522.7 L696.6,527.1 L698.9,528.4 L701.1,526.9 L703.4,528.2 L705.7,530.7 L707.9,533.1 L710.2,528.6 L712.5,531.1 L714.7,529.3 L717.0,531.8 L719.3,533.8 L721.5,535.5 L723.8,535.1 L726.1,535.8 L728.3,541.5 L730.6,541.6 L732.9,539.7 L735.1,544.3 L737.4,546.8 L739.7,546.0 L742.0,546.7 L744.2,546.7 L746.5,547.1 L748.8,546.4 L751.0,547.3 L753.3,547.4 L755.6,549.6 L757.8,550.3 L760.1,551.6 L762.4,552.5 L764.6,554.9 L766.9,557.4 L769.2,557.7 L771.4,559.1 L773.7,559.7 L776.0,560.2 L778.2,558.5 L780.5,559.5 L782.8,561.8 L785.0,563.1 L787.3,562.5 L789.6,564.0 L791.8,566.4 L794.1,569.4 L796.4,570.1 L798.6,567.9 L800.9,568.2 L803.2,568.5 L805.4,570.2 L807.7,567.5 L810.0,569.9 L812.2,569.3 L814.5,569.3 L816.8,571.7 L819.0,572.9 L821.3,574.2 L823.6,574.5 L825.8,574.9 L828.1,573.1 L830.4,574.0 L832.6,573.3 L834.9,575.5 L837.2,576.8 L839.4,578.3 L841.7,579.4 L844.0,579.5 L846.2,579.8 L848.5,582.5 L850.8,581.9 L853.0,581.9 L855.3,583.0 L857.6,581.7 L859.9,581.6 L862.1,584.1 L864.4,583.9 L866.7,585.9 L868.9,583.4 L871.2,582.4 L873.5,585.5 L875.7,583.4 L878.0,583.1 L880.3,584.9 L882.5,584.5 L884.8,585.4 L887.1,583.2 L889.3,584.6 L891.6,583.8 L893.9,579.8 L896.1,581.3 L898.4,581.8 L900.7,582.4 L902.9,584.8 L905.2,583.2 L907.5,583.2 L909.7,586.6 L912.0,584.5 L914.3,584.3 L916.5,584.8 L918.8,589.3 L921.1,588.3 L923.3,588.5 L925.6,585.9 L927.9,586.4 L930.1,585.6 L932.4,587.9 L934.7,589.7 L936.9,587.4 L939.2,588.0 L941.5,589.1 L943.7,588.5 L946.0,587.5 L948.3,588.3 L950.5,590.9 L952.8,592.2 L955.1,590.2 L957.3,590.7 L959.6,591.0 L961.9,591.6 L964.1,592.0 L966.4,590.5 L968.7,592.2 L970.9,593.5 L973.2,595.0 L975.5,594.6 L977.7,595.3 L980.0,598.6 L982.3,599.7 L984.6,597.1 L986.8,596.6 L989.1,598.8 L991.4,597.0 L993.6,597.5 L995.9,597.5 L998.2,599.7 L1000.4,598.9 L1002.7,595.9 L1005.0,597.3 L1007.2,598.1 L1009.5,599.6 L1011.8,601.7 L1014.0,602.4 L1016.3,604.5 L1018.6,605.2 L1020.8,606.7 L1023.1,607.2 L1025.4,608.5 L1027.6,611.3 L1029.9,612.4 L1032.2,615.5 L1034.4,613.8 L1036.7,620.0 L1039.0,620.1 L1041.2,618.8 L1043.5,624.0 L1045.8,627.5 L1048.0,630.2 L1050.3,629.3 L1052.6,631.2 L1054.8,630.6 L1057.1,631.6 L1059.4,631.6 L1061.6,627.5 L1063.9,631.6 L1066.2,633.4 L1068.4,634.0 L1070.7,632.6 L1073.0,632.4 L1075.2,631.8 L1077.5,631.8 L1079.8,633.3 L1082.0,631.2" fill="none" stroke="#a0a0a0" stroke-width="5.0" stroke-linejoin="miter" stroke-miterlimit="3"/>
<g fill="#a0a0a0"><rect x="184.2" y="78.5" width="13.6" height="13.6"/><rect x="244.7" y="90.7" width="13.6" height="13.6"/><rect x="305.1" y="143.0" width="13.6" height="13.6"/><rect x="365.6" y="254.0" width="13.6" height="13.6"/><rect x="426.0" y="363.4" width="13.6" height="13.6"/><rect x="486.5" y="435.3" width="13.6" height="13.6"/><rect x="547.0" y="469.3" width="13.6" height="13.6"/><rect x="607.4" y="488.6" width="13.6" height="13.6"/><rect x="667.9" y="512.5" width="13.6" height="13.6"/><rect x="728.3" y="534.3" width="13.6" height="13.6"/><rect x="788.8" y="561.2" width="13.6" height="13.6"/><rect x="849.3" y="575.8" width="13.6" height="13.6"/><rect x="909.7" y="578.5" width="13.6" height="13.6"/><rect x="970.2" y="587.9" width="13.6" height="13.6"/><rect x="1030.7" y="611.8" width="13.6" height="13.6"/></g>
<path d="M191.0,85.2 L193.3,85.4 L195.5,85.4 L197.8,85.8 L200.1,85.8 L202.3,86.1 L204.6,86.4 L206.9,86.7 L209.1,86.9 L211.4,87.2 L213.7,87.5 L215.9,87.7 L218.2,88.0 L220.5,88.3 L222.7,88.5 L225.0,88.9 L227.3,89.6 L229.5,90.3 L231.8,90.7 L234.1,91.0 L236.3,91.5 L238.6,92.1 L240.9,92.5 L243.1,93.3 L245.4,94.2 L247.7,94.6 L249.9,95.8 L252.2,96.3 L254.5,97.7 L256.8,98.9 L259.0,100.4 L261.3,100.5 L263.6,101.2 L265.8,102.8 L268.1,103.7 L270.4,103.2 L272.6,106.8 L274.9,107.6 L277.2,109.1 L279.4,111.7 L281.7,112.5 L284.0,113.0 L286.2,116.4 L288.5,119.4 L290.8,122.1 L293.0,125.5 L295.3,128.0 L297.6,132.5 L299.8,136.0 L302.1,139.7 L304.4,141.4 L306.6,145.6 L308.9,149.0 L311.2,156.8 L313.4,157.1 L315.7,161.0 L318.0,167.7 L320.2,174.8 L322.5,180.5 L324.8,183.2 L327.0,189.7 L329.3,192.6 L331.6,198.8 L333.8,202.1 L336.1,206.7 L338.4,215.1 L340.6,216.6 L342.9,221.0 L345.2,225.7 L347.4,228.1 L349.7,231.1 L352.0,233.7 L354.2,240.2 L356.5,242.5 L358.8,246.0 L361.0,252.6 L363.3,257.7 L365.6,262.7 L367.8,269.0 L370.1,270.2 L372.4,274.3 L374.7,278.9 L376.9,280.4 L379.2,285.8 L381.5,289.7 L383.7,292.1 L386.0,300.0 L388.3,303.4 L390.5,306.9 L392.8,311.6 L395.1,313.7 L397.3,319.6 L399.6,320.9 L401.9,323.8 L404.1,328.3 L406.4,333.4 L408.7,335.1 L410.9,336.6 L413.2,341.8 L415.5,342.4 L417.7,344.4 L420.0,348.2 L422.3,351.4 L424.5,355.3 L426.8,360.7 L429.1,362.2 L431.3,365.6 L433.6,366.2 L435.9,370.4 L438.1,370.8 L440.4,374.0 L442.7,377.2 L444.9,382.4 L447.2,386.1 L449.5,383.5 L451.7,389.4 L454.0,389.9 L456.3,393.2 L458.5,393.9 L460.8,395.4 L463.1,399.3 L465.3,400.3 L467.6,406.6 L469.9,406.7 L472.1,412.2 L474.4,415.1 L476.7,417.8 L478.9,419.6 L481.2,420.7 L483.5,426.9 L485.7,426.9 L488.0,429.9 L490.3,430.4 L492.5,434.4 L494.8,435.7 L497.1,438.7 L499.4,437.8 L501.6,439.6 L503.9,443.3 L506.2,446.0 L508.4,450.4 L510.7,450.4 L513.0,452.6 L515.2,455.7 L517.5,456.2 L519.8,460.9 L522.0,460.9 L524.3,461.3 L526.6,461.8 L528.8,463.5 L531.1,464.0 L533.4,464.9 L535.6,465.3 L537.9,468.7 L540.2,469.6 L542.4,469.9 L544.7,467.5 L547.0,475.1 L549.2,474.3 L551.5,473.9 L553.8,477.2 L556.0,479.7 L558.3,480.3 L560.6,478.5 L562.8,479.4 L565.1,482.7 L567.4,481.6 L569.6,483.9 L571.9,483.2 L574.2,484.3 L576.4,486.8 L578.7,487.9 L581.0,486.7 L583.2,485.2 L585.5,488.1 L587.8,490.6 L590.0,489.1 L592.3,495.0 L594.6,493.8 L596.8,496.0 L599.1,496.7 L601.4,497.1 L603.6,496.7 L605.9,499.5 L608.2,499.8 L610.4,502.3 L612.7,499.9 L615.0,500.7 L617.3,499.7 L619.5,502.7 L621.8,503.2 L624.1,501.5 L626.3,502.9 L628.6,502.8 L630.9,502.9 L633.1,504.9 L635.4,506.1 L637.7,504.2 L639.9,505.9 L642.2,506.2 L644.5,511.2 L646.7,511.9 L649.0,513.0 L651.3,512.4 L653.5,511.4 L655.8,512.0 L658.1,514.6 L660.3,515.4 L662.6,515.4 L664.9,518.5 L667.1,519.6 L669.4,521.4 L671.7,524.3 L673.9,523.9 L676.2,523.5 L678.5,527.1 L680.7,527.9 L683.0,530.5 L685.3,532.0 L687.5,531.3 L689.8,534.7 L692.1,536.7 L694.3,539.6 L696.6,537.7 L698.9,539.8 L701.1,540.4 L703.4,538.8 L705.7,540.0 L707.9,544.2 L710.2,541.0 L712.5,542.3 L714.7,544.7 L717.0,542.6 L719.3,546.1 L721.5,545.8 L723.8,547.8 L726.1,548.2 L728.3,546.0 L730.6,549.9 L732.9,549.7 L735.1,551.2 L737.4,550.5 L739.7,551.7 L742.0,549.4 L744.2,551.5 L746.5,553.1 L748.8,552.9 L751.0,552.6 L753.3,555.9 L755.6,557.7 L757.8,557.0 L760.1,561.4 L762.4,560.4 L764.6,559.8 L766.9,562.7 L769.2,564.0 L771.4,566.5 L773.7,566.2 L776.0,568.1 L778.2,570.6 L780.5,571.5 L782.8,571.1 L785.0,572.7 L787.3,575.8 L789.6,576.4 L791.8,577.7 L794.1,577.4 L796.4,578.7 L798.6,579.8 L800.9,580.5 L803.2,581.2 L805.4,578.8 L807.7,581.3 L810.0,581.4 L812.2,583.2 L814.5,582.2 L816.8,584.3 L819.0,585.4 L821.3,583.3 L823.6,583.8 L825.8,583.3 L828.1,586.5 L830.4,585.7 L832.6,588.5 L834.9,587.7 L837.2,590.5 L839.4,590.5 L841.7,592.7 L844.0,594.4 L846.2,595.3 L848.5,598.0 L850.8,598.2 L853.0,599.1 L855.3,599.6 L857.6,599.4 L859.9,598.4 L862.1,599.3 L864.4,597.8 L866.7,597.6 L868.9,599.3 L871.2,600.9 L873.5,601.6 L875.7,599.2 L878.0,599.9 L880.3,598.2 L882.5,599.5 L884.8,599.5 L887.1,599.3 L889.3,601.8 L891.6,602.4 L893.9,600.6 L896.1,600.6 L898.4,602.2 L900.7,603.3 L902.9,605.4 L905.2,603.6 L907.5,603.7 L909.7,604.9 L912.0,606.3 L914.3,606.4 L916.5,606.7 L918.8,605.6 L921.1,603.9 L923.3,604.9 L925.6,607.2 L927.9,604.6 L930.1,604.4 L932.4,603.5 L934.7,601.7 L936.9,600.8 L939.2,600.7 L941.5,599.4 L943.7,600.4 L946.0,600.9 L948.3,601.2 L950.5,601.4 L952.8,600.0 L955.1,603.4 L957.3,601.2 L959.6,600.9 L961.9,602.9 L964.1,602.6 L966.4,602.8 L968.7,602.7 L970.9,600.8 L973.2,602.5 L975.5,601.7 L977.7,601.6 L980.0,601.9 L982.3,601.6 L984.6,603.0 L986.8,602.5 L989.1,604.3 L991.4,602.3 L993.6,603.3 L995.9,603.8 L998.2,600.6 L1000.4,603.5 L1002.7,602.8 L1005.0,601.8 L1007.2,604.5 L1009.5,604.7 L1011.8,605.0 L1014.0,604.9 L1016.3,605.6 L1018.6,604.9 L1020.8,604.9 L1023.1,605.2 L1025.4,605.9 L1027.6,608.2 L1029.9,610.3 L1032.2,610.4 L1034.4,613.9 L1036.7,616.6 L1039.0,615.0 L1041.2,617.1 L1043.5,617.9 L1045.8,619.6 L1048.0,620.3 L1050.3,622.7 L1052.6,622.7 L1054.8,625.0 L1057.1,624.0 L1059.4,623.8 L1061.6,622.2 L1063.9,623.4 L1066.2,623.9 L1068.4,622.6 L1070.7,624.8 L1073.0,623.9 L1075.2,623.3 L1077.5,624.6 L1079.8,627.4 L1082.0,625.9" fill="none" stroke="#a0a0a0" stroke-width="5.0" stroke-linejoin="miter" stroke-miterlimit="3"/>
<g fill="#a0a0a0"><circle cx="221.2" cy="88.6" r="6.3"/><circle cx="281.7" cy="112.6" r="6.3"/><circle cx="342.2" cy="217.3" r="6.3"/><circle cx="402.6" cy="326.4" r="6.3"/><circle cx="463.1" cy="400.8" r="6.3"/><circle cx="523.5" cy="459.9" r="6.3"/><circle cx="584.0" cy="489.0" r="6.3"/><circle cx="644.5" cy="509.0" r="6.3"/><circle cx="704.9" cy="539.2" r="6.3"/><circle cx="765.4" cy="561.3" r="6.3"/><circle cx="825.8" cy="585.3" r="6.3"/><circle cx="886.3" cy="599.3" r="6.3"/><circle cx="946.8" cy="600.0" r="6.3"/><circle cx="1007.2" cy="602.6" r="6.3"/><circle cx="1067.7" cy="625.3" r="6.3"/></g>
<path d="M191.0,729.4 L193.3,729.4 L195.5,729.4 L197.8,729.3 L200.1,729.3 L202.3,729.2 L204.6,729.2 L206.9,729.1 L209.1,729.0 L211.4,729.1 L213.7,729.0 L215.9,728.9 L218.2,729.0 L220.5,728.9 L222.7,728.9 L225.0,729.0 L227.3,728.6 L229.5,728.7 L231.8,728.9 L234.1,728.9 L236.3,729.0 L238.6,728.7 L240.9,728.9 L243.1,729.1 L245.4,728.7 L247.7,728.6 L249.9,729.0 L252.2,728.6 L254.5,728.7 L256.8,728.8 L259.0,728.7 L261.3,728.7 L263.6,728.9 L265.8,727.5 L268.1,727.6 L270.4,727.7 L272.6,728.3 L274.9,727.9 L277.2,727.9 L279.4,728.3 L281.7,727.9 L284.0,728.6 L286.2,728.3 L288.5,728.6 L290.8,729.5 L293.0,729.5 L295.3,728.3 L297.6,727.9 L299.8,728.6 L302.1,727.2 L304.4,726.8 L306.6,727.1 L308.9,726.3 L311.2,726.1 L313.4,726.5 L315.7,727.7 L318.0,726.1 L320.2,727.6 L322.5,727.6 L324.8,727.2 L327.0,727.4 L329.3,725.7 L331.6,725.9 L333.8,725.5 L336.1,725.0 L338.4,726.3 L340.6,726.0 L342.9,725.3 L345.2,726.0 L347.4,723.6 L349.7,726.2 L352.0,725.8 L354.2,724.3 L356.5,724.8 L358.8,725.2 L361.0,725.5 L363.3,725.2 L365.6,725.1 L367.8,725.8 L370.1,726.2 L372.4,725.3 L374.7,724.5 L376.9,724.1 L379.2,726.8 L381.5,724.7 L383.7,725.1 L386.0,725.2 L388.3,725.0 L390.5,725.2 L392.8,724.9 L395.1,725.7 L397.3,725.5 L399.6,724.7 L401.9,726.6 L404.1,725.9 L406.4,725.1 L408.7,725.6 L410.9,727.5 L413.2,725.9 L415.5,726.6 L417.7,726.6 L420.0,726.6 L422.3,727.3 L424.5,727.4 L426.8,727.0 L429.1,727.4 L431.3,727.1 L433.6,727.0 L435.9,727.3 L438.1,727.1 L440.4,726.3 L442.7,726.3 L444.9,727.4 L447.2,727.1 L449.5,725.5 L451.7,726.9 L454.0,727.1 L456.3,726.5 L458.5,726.6 L460.8,727.2 L463.1,727.1 L465.3,727.2 L467.6,725.9 L469.9,727.4 L472.1,725.3 L474.4,726.2 L476.7,725.3 L478.9,724.3 L481.2,724.7 L483.5,724.1 L485.7,723.4 L488.0,724.2 L490.3,723.3 L492.5,724.7 L494.8,723.9 L497.1,724.2 L499.4,723.5 L501.6,723.4 L503.9,724.1 L506.2,722.2 L508.4,723.0 L510.7,724.4 L513.0,724.3 L515.2,721.8 L517.5,723.3 L519.8,723.9 L522.0,723.8 L524.3,723.3 L526.6,722.0 L528.8,723.0 L531.1,721.5 L533.4,722.5 L535.6,723.6 L537.9,722.2 L540.2,723.1 L542.4,722.7 L544.7,721.4 L547.0,722.3 L549.2,721.5 L551.5,721.1 L553.8,721.0 L556.0,720.1 L558.3,721.1 L560.6,719.7 L562.8,719.6 L565.1,720.6 L567.4,719.5 L569.6,719.1 L571.9,718.3 L574.2,717.2 L576.4,718.1 L578.7,717.3 L581.0,718.7 L583.2,718.2 L585.5,717.9 L587.8,718.1 L590.0,716.7 L592.3,716.2 L594.6,714.6 L596.8,715.0 L599.1,713.7 L601.4,712.8 L603.6,713.9 L605.9,714.6 L608.2,712.9 L610.4,712.3 L612.7,712.9 L615.0,711.8 L617.3,711.8 L619.5,712.0 L621.8,711.8 L624.1,710.7 L626.3,710.0 L628.6,709.9 L630.9,709.4 L633.1,708.9 L635.4,709.9 L637.7,710.0 L639.9,710.6 L642.2,710.8 L644.5,709.5 L646.7,709.4 L649.0,708.4 L651.3,708.2 L653.5,707.6 L655.8,708.1 L658.1,707.5 L660.3,707.3 L662.6,708.6 L664.9,707.5 L667.1,707.6 L669.4,705.9 L671.7,706.8 L673.9,707.2 L676.2,707.3 L678.5,707.0 L680.7,707.6 L683.0,706.2 L685.3,707.5 L687.5,707.5 L689.8,706.5 L692.1,707.8 L694.3,705.7 L696.6,706.9 L698.9,706.0 L701.1,707.0 L703.4,706.1 L705.7,706.7 L707.9,707.3 L710.2,705.0 L712.5,706.4 L714.7,706.3 L717.0,705.7 L719.3,705.5 L721.5,705.5 L723.8,706.2 L726.1,705.8 L728.3,705.7 L730.6,708.1 L732.9,706.9 L735.1,706.7 L737.4,706.0 L739.7,705.4 L742.0,706.0 L744.2,706.7 L746.5,706.3 L748.8,705.7 L751.0,706.5 L753.3,706.0 L755.6,705.4 L757.8,707.3 L760.1,706.2 L762.4,706.3 L764.6,706.9 L766.9,707.6 L769.2,708.3 L771.4,707.5 L773.7,707.0 L776.0,707.5 L778.2,707.0 L780.5,706.3 L782.8,706.4 L785.0,707.1 L787.3,706.8 L789.6,705.5 L791.8,706.6 L794.1,705.3 L796.4,704.7 L798.6,706.1 L800.9,706.2 L803.2,705.4 L805.4,705.9 L807.7,706.1 L810.0,705.9 L812.2,706.4 L814.5,707.1 L816.8,706.6 L819.0,707.5 L821.3,708.1 L823.6,706.2 L825.8,707.5 L828.1,705.7 L830.4,705.9 L832.6,706.5 L834.9,704.7 L837.2,704.7 L839.4,706.1 L841.7,705.2 L844.0,705.1 L846.2,703.8 L848.5,705.0 L850.8,704.5 L853.0,703.6 L855.3,704.8 L857.6,704.6 L859.9,704.3 L862.1,704.7 L864.4,704.0 L866.7,703.9 L868.9,705.0 L871.2,703.3 L873.5,705.0 L875.7,704.5 L878.0,705.0 L880.3,704.7 L882.5,704.5 L884.8,704.7 L887.1,704.5 L889.3,705.8 L891.6,703.4 L893.9,704.9 L896.1,705.4 L898.4,704.2 L900.7,703.5 L902.9,703.0 L905.2,703.8 L907.5,702.9 L909.7,704.2 L912.0,702.6 L914.3,704.0 L916.5,702.9 L918.8,705.0 L921.1,703.6 L923.3,704.3 L925.6,703.3 L927.9,703.0 L930.1,704.6 L932.4,704.0 L934.7,704.6 L936.9,704.8 L939.2,704.0 L941.5,703.8 L943.7,704.0 L946.0,703.2 L948.3,702.7 L950.5,703.5 L952.8,703.1 L955.1,703.6 L957.3,703.6 L959.6,703.7 L961.9,702.2 L964.1,702.6 L966.4,702.7 L968.7,703.2 L970.9,701.5 L973.2,701.7 L975.5,703.5 L977.7,702.6 L980.0,701.6 L982.3,702.5 L984.6,701.5 L986.8,702.1 L989.1,702.1 L991.4,701.8 L993.6,703.6 L995.9,702.4 L998.2,703.9 L1000.4,700.9 L1002.7,701.8 L1005.0,702.2 L1007.2,702.4 L1009.5,702.5 L1011.8,702.4 L1014.0,702.9 L1016.3,702.2 L1018.6,703.7 L1020.8,702.8 L1023.1,703.2 L1025.4,703.5 L1027.6,702.8 L1029.9,702.1 L1032.2,701.4 L1034.4,702.8 L1036.7,700.7 L1039.0,700.7 L1041.2,701.9 L1043.5,702.3 L1045.8,702.6 L1048.0,701.3 L1050.3,702.0 L1052.6,702.7 L1054.8,701.9 L1057.1,703.6 L1059.4,702.0 L1061.6,702.2 L1063.9,703.2 L1066.2,703.2 L1068.4,704.1 L1070.7,704.0 L1073.0,704.1 L1075.2,704.9 L1077.5,704.6 L1079.8,705.0 L1082.0,704.0" fill="none" stroke="#0000ff" stroke-width="5.0" stroke-linejoin="miter" stroke-miterlimit="3"/>
<g fill="#0000ff"><rect x="184.2" y="722.7" width="13.6" height="13.6"/><rect x="244.7" y="721.6" width="13.6" height="13.6"/><rect x="305.1" y="720.8" width="13.6" height="13.6"/><rect x="365.6" y="719.0" width="13.6" height="13.6"/><rect x="426.0" y="719.5" width="13.6" height="13.6"/><rect x="486.5" y="717.0" width="13.6" height="13.6"/><rect x="547.0" y="714.4" width="13.6" height="13.6"/><rect x="607.4" y="705.7" width="13.6" height="13.6"/><rect x="667.9" y="700.1" width="13.6" height="13.6"/><rect x="728.3" y="699.0" width="13.6" height="13.6"/><rect x="788.8" y="700.1" width="13.6" height="13.6"/><rect x="849.3" y="698.0" width="13.6" height="13.6"/><rect x="909.7" y="697.3" width="13.6" height="13.6"/><rect x="970.2" y="696.0" width="13.6" height="13.6"/><rect x="1030.7" y="695.3" width="13.6" height="13.6"/></g>
<path d="M191.0,729.4 L193.3,729.4 L195.5,729.4 L197.8,729.4 L200.1,729.5 L202.3,729.4 L204.6,729.4 L206.9,729.4 L209.1,729.4 L211.4,729.5 L213.7,729.4 L215.9,729.4 L218.2,729.5 L220.5,729.5 L222.7,729.5 L225.0,729.5 L227.3,729.5 L229.5,729.4 L231.8,729.3 L234.1,729.3 L236.3,728.7 L238.6,729.2 L240.9,729.2 L243.1,729.0 L245.4,728.8 L247.7,728.5 L249.9,728.7 L252.2,728.8 L254.5,728.3 L256.8,728.8 L259.0,728.2 L261.3,728.3 L263.6,727.8 L265.8,727.3 L268.1,727.4 L270.4,727.5 L272.6,727.8 L274.9,727.8 L277.2,727.6 L279.4,728.7 L281.7,727.7 L284.0,728.0 L286.2,727.8 L288.5,728.1 L290.8,727.7 L293.0,728.0 L295.3,727.7 L297.6,728.0 L299.8,726.8 L302.1,725.6 L304.4,726.3 L306.6,726.1 L308.9,726.7 L311.2,726.0 L313.4,727.4 L315.7,726.4 L318.0,726.5 L320.2,727.4 L322.5,726.4 L324.8,726.1 L327.0,726.1 L329.3,726.4 L331.6,727.1 L333.8,727.3 L336.1,726.7 L338.4,727.6 L340.6,726.7 L342.9,726.6 L345.2,727.2 L347.4,726.5 L349.7,726.8 L352.0,726.1 L354.2,725.5 L356.5,727.3 L358.8,725.7 L361.0,727.2 L363.3,726.1 L365.6,725.3 L367.8,727.1 L370.1,726.5 L372.4,725.1 L374.7,725.4 L376.9,726.0 L379.2,727.3 L381.5,724.8 L383.7,726.6 L386.0,727.4 L388.3,725.1 L390.5,725.4 L392.8,725.6 L395.1,725.0 L397.3,725.2 L399.6,725.0 L401.9,725.0 L404.1,725.9 L406.4,724.9 L408.7,725.1 L410.9,726.0 L413.2,726.1 L415.5,725.4 L417.7,726.5 L420.0,726.2 L422.3,725.8 L424.5,726.4 L426.8,726.8 L429.1,725.6 L431.3,724.5 L433.6,724.4 L435.9,724.4 L438.1,725.2 L440.4,725.3 L442.7,724.6 L444.9,726.2 L447.2,724.7 L449.5,724.3 L451.7,724.5 L454.0,723.5 L456.3,724.1 L458.5,725.1 L460.8,723.9 L463.1,724.2 L465.3,724.2 L467.6,724.9 L469.9,724.3 L472.1,724.7 L474.4,726.3 L476.7,725.9 L478.9,725.4 L481.2,725.9 L483.5,725.7 L485.7,725.2 L488.0,724.2 L490.3,723.5 L492.5,722.8 L494.8,721.6 L497.1,722.0 L499.4,721.7 L501.6,722.1 L503.9,721.9 L506.2,723.5 L508.4,723.1 L510.7,723.2 L513.0,724.1 L515.2,723.6 L517.5,723.4 L519.8,722.9 L522.0,722.9 L524.3,721.6 L526.6,721.5 L528.8,721.6 L531.1,721.1 L533.4,720.5 L535.6,721.4 L537.9,720.5 L540.2,721.5 L542.4,721.5 L544.7,720.9 L547.0,718.3 L549.2,720.3 L551.5,718.6 L553.8,717.6 L556.0,718.2 L558.3,716.5 L560.6,715.9 L562.8,716.0 L565.1,714.5 L567.4,715.5 L569.6,716.7 L571.9,715.7 L574.2,716.6 L576.4,717.0 L578.7,717.1 L581.0,714.3 L583.2,715.5 L585.5,715.1 L587.8,715.2 L590.0,714.9 L592.3,715.2 L594.6,715.4 L596.8,715.6 L599.1,715.7 L601.4,714.7 L603.6,713.8 L605.9,712.3 L608.2,713.2 L610.4,712.9 L612.7,714.1 L615.0,715.3 L617.3,715.7 L619.5,715.6 L621.8,716.9 L624.1,715.8 L626.3,714.6 L628.6,715.5 L630.9,715.7 L633.1,716.3 L635.4,717.3 L637.7,717.0 L639.9,717.1 L642.2,716.0 L644.5,715.3 L646.7,717.1 L649.0,716.4 L651.3,716.4 L653.5,716.1 L655.8,716.4 L658.1,715.5 L660.3,715.1 L662.6,715.1 L664.9,715.9 L667.1,715.1 L669.4,715.6 L671.7,713.5 L673.9,714.3 L676.2,713.3 L678.5,713.3 L680.7,713.7 L683.0,714.2 L685.3,714.8 L687.5,712.7 L689.8,713.9 L692.1,713.1 L694.3,711.4 L696.6,712.8 L698.9,711.5 L701.1,711.3 L703.4,710.1 L705.7,710.5 L707.9,710.6 L710.2,710.1 L712.5,710.9 L714.7,710.7 L717.0,712.7 L719.3,712.0 L721.5,711.6 L723.8,712.4 L726.1,713.3 L728.3,711.3 L730.6,712.1 L732.9,711.3 L735.1,711.9 L737.4,711.6 L739.7,710.9 L742.0,711.8 L744.2,711.2 L746.5,711.3 L748.8,711.3 L751.0,712.0 L753.3,712.2 L755.6,711.2 L757.8,712.6 L760.1,714.0 L762.4,713.5 L764.6,713.8 L766.9,712.8 L769.2,712.3 L771.4,712.0 L773.7,710.1 L776.0,711.3 L778.2,710.8 L780.5,711.2 L782.8,711.4 L785.0,710.9 L787.3,711.1 L789.6,710.7 L791.8,713.6 L794.1,711.9 L796.4,711.7 L798.6,710.8 L800.9,712.3 L803.2,713.2 L805.4,711.6 L807.7,711.8 L810.0,712.0 L812.2,712.0 L814.5,710.6 L816.8,710.2 L819.0,711.1 L821.3,712.4 L823.6,710.3 L825.8,712.2 L828.1,711.8 L830.4,712.5 L832.6,710.5 L834.9,710.5 L837.2,710.6 L839.4,710.7 L841.7,710.3 L844.0,710.2 L846.2,711.9 L848.5,710.1 L850.8,709.8 L853.0,710.9 L855.3,710.6 L857.6,710.9 L859.9,709.0 L862.1,710.0 L864.4,709.8 L866.7,709.8 L868.9,711.1 L871.2,710.0 L873.5,710.0 L875.7,709.8 L878.0,709.7 L880.3,709.4 L882.5,709.1 L884.8,709.0 L887.1,708.8 L889.3,709.4 L891.6,710.0 L893.9,709.2 L896.1,710.4 L898.4,708.9 L900.7,710.6 L902.9,708.6 L905.2,709.2 L907.5,708.6 L909.7,709.5 L912.0,710.3 L914.3,708.5 L916.5,709.3 L918.8,708.5 L921.1,707.8 L923.3,707.0 L925.6,706.2 L927.9,706.3 L930.1,707.3 L932.4,707.1 L934.7,706.9 L936.9,705.8 L939.2,706.9 L941.5,707.4 L943.7,706.5 L946.0,707.1 L948.3,707.2 L950.5,706.6 L952.8,707.7 L955.1,706.4 L957.3,706.6 L959.6,707.2 L961.9,708.1 L964.1,707.2 L966.4,705.7 L968.7,706.5 L970.9,707.0 L973.2,705.4 L975.5,707.0 L977.7,707.9 L980.0,706.9 L982.3,707.0 L984.6,706.7 L986.8,707.5 L989.1,706.1 L991.4,706.2 L993.6,707.0 L995.9,706.9 L998.2,706.0 L1000.4,705.8 L1002.7,705.8 L1005.0,706.1 L1007.2,708.6 L1009.5,707.6 L1011.8,706.9 L1014.0,706.2 L1016.3,707.3 L1018.6,705.3 L1020.8,705.4 L1023.1,705.6 L1025.4,705.3 L1027.6,705.9 L1029.9,706.5 L1032.2,705.4 L1034.4,705.4 L1036.7,706.2 L1039.0,705.7 L1041.2,704.7 L1043.5,704.9 L1045.8,703.7 L1048.0,705.9 L1050.3,704.2 L1052.6,704.5 L1054.8,705.5 L1057.1,704.5 L1059.4,703.6 L1061.6,704.6 L1063.9,704.6 L1066.2,703.4 L1068.4,702.4 L1070.7,705.2 L1073.0,703.8 L1075.2,703.9 L1077.5,704.4 L1079.8,705.3 L1082.0,705.3" fill="none" stroke="#0000ff" stroke-width="5.0" stroke-linejoin="miter" stroke-miterlimit="3"/>
<g fill="#0000ff"><circle cx="221.2" cy="729.5" r="6.3"/><circle cx="281.7" cy="727.6" r="6.3"/><circle cx="342.2" cy="726.3" r="6.3"/><circle cx="402.6" cy="725.8" r="6.3"/><circle cx="463.1" cy="725.0" r="6.3"/><circle cx="523.5" cy="722.5" r="6.3"/><circle cx="584.0" cy="714.1" r="6.3"/><circle cx="644.5" cy="716.1" r="6.3"/><circle cx="704.9" cy="710.9" r="6.3"/><circle cx="765.4" cy="712.0" r="6.3"/><circle cx="825.8" cy="710.9" r="6.3"/><circle cx="886.3" cy="709.6" r="6.3"/><circle cx="946.8" cy="707.0" r="6.3"/><circle cx="1007.2" cy="705.7" r="6.3"/><circle cx="1067.7" cy="704.4" r="6.3"/></g>
</g>
<g id="dashed">
<path d="M191.0,723.0 L198.6,722.3 L206.1,721.4 L213.7,720.4 L221.2,719.2 L228.8,717.9 L236.3,716.2 L243.9,714.4 L251.5,712.4 L259.0,710.2 L266.6,707.9 L274.1,705.1 L281.7,701.8 L289.2,697.5 L296.8,691.9 L304.4,685.4 L311.9,678.1 L319.5,669.6 L327.0,659.6 L334.6,648.5 L342.2,637.0 L349.7,624.9 L357.3,611.8 L364.8,598.2 L372.4,584.5 L379.9,570.5 L387.5,556.0 L395.1,541.5 L402.6,527.7 L410.2,513.9 L417.7,500.2 L425.3,487.5 L432.8,477.3 L440.4,468.9 L448.0,460.9 L455.5,453.4 L463.1,446.6 L470.6,440.6 L478.2,435.4 L485.7,431.2 L493.3,428.1 L500.9,425.7 L508.4,423.6 L516.0,421.7 L523.5,420.1 L531.1,418.6 L538.7,417.4 L546.2,416.4 L553.8,415.5 L561.3,414.8 L568.9,414.2 L576.4,413.8 L584.0,413.4 L591.6,413.0 L599.1,412.5 L606.7,411.9 L614.2,411.2 L621.8,409.8 L629.3,407.7 L636.9,405.0 L644.5,402.0 L652.0,399.0 L659.6,396.1 L667.1,393.6 L674.7,391.7 L682.2,390.3 L689.8,389.0 L697.4,387.8 L704.9,386.7 L712.5,385.7 L720.0,384.8 L727.6,384.0 L735.1,383.1 L742.7,382.4 L750.3,381.8 L757.8,381.2 L765.4,380.7 L772.9,380.2 L780.5,379.6 L788.1,378.9 L795.6,378.0 L803.2,376.8 L810.7,375.2 L818.3,373.3 L825.8,371.2 L833.4,369.0 L841.0,366.9 L848.5,365.0 L856.1,363.3 L863.6,361.8 L871.2,360.5 L878.7,359.3 L886.3,358.1 L893.9,357.0 L901.4,355.7 L909.0,354.4 L916.5,352.8 L924.1,351.2 L931.6,349.3 L939.2,347.3 L946.8,345.2 L954.3,343.0 L961.9,340.8 L969.4,338.4 L977.0,336.1 L984.6,333.5 L992.1,330.6 L999.7,327.5 L1007.2,324.4 L1014.8,321.4 L1022.3,318.5 L1029.9,316.1 L1037.5,314.1 L1045.0,312.5 L1052.6,311.0 L1060.1,309.6 L1067.7,308.4 L1075.2,307.5 L1082.8,306.7" fill="none" stroke="#ff0000" stroke-width="4.7" stroke-dasharray="8.5 11.5" stroke-dashoffset="4" clip-path="url(#pc)"/>
<g fill="none" stroke="#ff0000" stroke-width="1.1"><rect x="184.7" y="716.7" width="12.6" height="12.6"/><rect x="245.2" y="706.1" width="12.6" height="12.6"/><rect x="305.6" y="671.8" width="12.6" height="12.6"/><rect x="366.1" y="578.2" width="12.6" height="12.6"/><rect x="426.5" y="471.0" width="12.6" height="12.6"/><rect x="487.0" y="421.8" width="12.6" height="12.6"/><rect x="547.5" y="409.2" width="12.6" height="12.6"/><rect x="607.9" y="404.9" width="12.6" height="12.6"/><rect x="668.4" y="385.4" width="12.6" height="12.6"/><rect x="728.8" y="376.8" width="12.6" height="12.6"/><rect x="789.3" y="371.7" width="12.6" height="12.6"/><rect x="849.8" y="357.0" width="12.6" height="12.6"/><rect x="910.2" y="346.5" width="12.6" height="12.6"/><rect x="970.7" y="329.8" width="12.6" height="12.6"/><rect x="1031.2" y="307.8" width="12.6" height="12.6"/></g>
<path d="M191.0,723.0 L198.6,722.3 L206.1,721.4 L213.7,720.4 L221.2,719.2 L228.8,717.9 L236.3,716.2 L243.9,714.4 L251.5,712.4 L259.0,710.2 L266.6,707.9 L274.1,705.1 L281.7,701.8 L289.2,697.5 L296.8,691.9 L304.4,685.4 L311.9,678.1 L319.5,669.6 L327.0,659.6 L334.6,648.5 L342.2,637.0 L349.7,624.9 L357.3,611.8 L364.8,598.2 L372.4,584.5 L379.9,570.5 L387.5,556.0 L395.1,541.5 L402.6,527.7 L410.2,514.1 L417.7,500.5 L425.3,487.9 L432.8,477.3 L440.4,468.2 L448.0,459.8 L455.5,452.9 L463.1,448.0 L470.6,444.6 L478.2,441.6 L485.7,439.0 L493.3,436.7 L500.9,434.7 L508.4,433.1 L516.0,431.7 L523.5,430.6 L531.1,429.8 L538.7,429.2 L546.2,428.6 L553.8,428.2 L561.3,427.8 L568.9,427.2 L576.4,426.6 L584.0,425.8 L591.6,424.5 L599.1,422.6 L606.7,420.4 L614.2,417.8 L621.8,415.0 L629.3,412.0 L636.9,409.1 L644.5,406.4 L652.0,403.5 L659.6,400.4 L667.1,397.1 L674.7,393.8 L682.2,390.5 L689.8,387.4 L697.4,384.7 L704.9,382.4 L712.5,380.4 L720.0,378.6 L727.6,376.9 L735.1,375.3 L742.7,373.8 L750.3,372.4 L757.8,371.1 L765.4,369.8 L772.9,368.6 L780.5,367.5 L788.1,366.5 L795.6,365.6 L803.2,364.6 L810.7,363.6 L818.3,362.5 L825.8,361.2 L833.4,359.7 L841.0,358.0 L848.5,356.1 L856.1,354.2 L863.6,352.2 L871.2,350.2 L878.7,348.4 L886.3,346.7 L893.9,345.2 L901.4,343.8 L909.0,342.6 L916.5,341.3 L924.1,340.0 L931.6,338.7 L939.2,337.2 L946.8,335.5 L954.3,333.4 L961.9,330.9 L969.4,328.1 L977.0,325.2 L984.6,322.3 L992.1,319.6 L999.7,317.2 L1007.2,315.4 L1014.8,314.0 L1022.3,312.6 L1029.9,311.3 L1037.5,310.2 L1045.0,309.2 L1052.6,308.3 L1060.1,307.5 L1067.7,306.9 L1075.2,306.4 L1082.8,306.0" fill="none" stroke="#ff0000" stroke-width="4.7" stroke-dasharray="8.5 11.5" stroke-dashoffset="4" clip-path="url(#pc)"/>
<g fill="none" stroke="#ff0000" stroke-width="1.1"><circle cx="221.2" cy="719.2" r="6.4"/><circle cx="281.7" cy="701.8" r="6.4"/><circle cx="342.2" cy="637.0" r="6.4"/><circle cx="402.6" cy="527.7" r="6.4"/><circle cx="463.1" cy="448.0" r="6.4"/><circle cx="523.5" cy="430.6" r="6.4"/><circle cx="584.0" cy="425.8" r="6.4"/><circle cx="644.5" cy="406.4" r="6.4"/><circle cx="704.9" cy="382.4" r="6.4"/><circle cx="765.4" cy="369.8" r="6.4"/><circle cx="825.8" cy="361.2" r="6.4"/><circle cx="886.3" cy="346.7" r="6.4"/><circle cx="946.8" cy="335.5" r="6.4"/><circle cx="1007.2" cy="315.4" r="6.4"/><circle cx="1067.7" cy="306.9" r="6.4"/></g>
<path d="M191.0,695.4 L198.6,695.1 L206.1,694.6 L213.7,693.9 L221.2,693.2 L228.8,692.2 L236.3,690.9 L243.9,689.3 L251.5,687.7 L259.0,686.0 L266.6,684.3 L274.1,682.2 L281.7,679.9 L289.2,677.0 L296.8,673.6 L304.4,669.8 L311.9,665.7 L319.5,660.9 L327.0,655.5 L334.6,650.1 L342.2,645.6 L349.7,642.1 L357.3,638.9 L364.8,636.1 L372.4,633.5 L379.9,631.1 L387.5,629.0 L395.1,627.0 L402.6,625.2 L410.2,623.6 L417.7,622.1 L425.3,620.7 L432.8,619.3 L440.4,618.0 L448.0,616.6 L455.5,615.4 L463.1,614.4 L470.6,613.6 L478.2,612.9 L485.7,612.3 L493.3,611.6 L500.9,610.8 L508.4,609.8 L516.0,609.0 L523.5,608.6 L531.1,608.4 L538.7,608.3 L546.2,608.2 L553.8,608.2 L561.3,608.2 L568.9,608.3 L576.4,608.4 L584.0,608.6 L591.6,608.9 L599.1,609.6 L606.7,610.2 L614.2,610.5 L621.8,610.0 L629.3,609.0 L636.9,608.0 L644.5,607.5 L652.0,607.6 L659.6,607.7 L667.1,607.8 L674.7,607.9 L682.2,606.7 L689.8,603.8 L697.4,600.6 L704.9,598.3 L712.5,597.0 L720.0,596.0 L727.6,595.0 L735.1,593.8 L742.7,592.1 L750.3,589.9 L757.8,587.4 L765.4,584.9 L772.9,582.5 L780.5,580.5 L788.1,579.1 L795.6,578.6 L803.2,578.7 L810.7,579.0 L818.3,579.4 L825.8,579.8 L833.4,580.4 L841.0,580.9 L848.5,581.4 L856.1,581.9 L863.6,582.3 L871.2,582.7 L878.7,583.0 L886.3,583.4 L893.9,583.8 L901.4,584.3 L909.0,584.8 L916.5,585.3 L924.1,586.1 L931.6,587.1 L939.2,588.3 L946.8,589.5 L954.3,590.9 L961.9,592.2 L969.4,593.5 L977.0,594.7 L984.6,595.8 L992.1,597.0 L999.7,598.2 L1007.2,599.4 L1014.8,600.4 L1022.3,601.4 L1029.9,602.2 L1037.5,602.7 L1045.0,603.0 L1052.6,603.4 L1060.1,603.7 L1067.7,603.9 L1075.2,604.1 L1082.8,604.1" fill="none" stroke="#0dd145" stroke-width="4.7" stroke-dasharray="8.5 11.5" stroke-dashoffset="4" clip-path="url(#pc)"/>
<g fill="none" stroke="#0dd145" stroke-width="1.1"><rect x="184.7" y="689.1" width="12.6" height="12.6"/><rect x="245.2" y="681.4" width="12.6" height="12.6"/><rect x="305.6" y="659.4" width="12.6" height="12.6"/><rect x="366.1" y="627.2" width="12.6" height="12.6"/><rect x="426.5" y="613.0" width="12.6" height="12.6"/><rect x="487.0" y="605.3" width="12.6" height="12.6"/><rect x="547.5" y="601.9" width="12.6" height="12.6"/><rect x="607.9" y="604.2" width="12.6" height="12.6"/><rect x="668.4" y="601.6" width="12.6" height="12.6"/><rect x="728.8" y="587.5" width="12.6" height="12.6"/><rect x="789.3" y="572.3" width="12.6" height="12.6"/><rect x="849.8" y="575.6" width="12.6" height="12.6"/><rect x="910.2" y="579.0" width="12.6" height="12.6"/><rect x="970.7" y="588.4" width="12.6" height="12.6"/><rect x="1031.2" y="596.4" width="12.6" height="12.6"/></g>
<path d="M191.0,695.4 L198.6,695.1 L206.1,694.6 L213.7,693.9 L221.2,693.2 L228.8,692.2 L236.3,690.9 L243.9,689.3 L251.5,687.7 L259.0,686.0 L266.6,684.3 L274.1,682.2 L281.7,679.9 L289.2,677.0 L296.8,673.6 L304.4,669.8 L311.9,665.7 L319.5,660.9 L327.0,655.5 L334.6,650.1 L342.2,645.6 L349.7,642.1 L357.3,638.9 L364.8,636.1 L372.4,633.5 L379.9,631.1 L387.5,629.0 L395.1,627.0 L402.6,625.2 L410.2,623.6 L417.7,622.1 L425.3,620.7 L432.8,619.3 L440.4,618.0 L448.0,616.6 L455.5,615.4 L463.1,614.4 L470.6,613.7 L478.2,613.1 L485.7,612.5 L493.3,611.6 L500.9,609.7 L508.4,606.6 L516.0,603.5 L523.5,601.4 L531.1,600.2 L538.7,599.1 L546.2,598.2 L553.8,597.3 L561.3,596.6 L568.9,596.0 L576.4,595.5 L584.0,595.0 L591.6,594.6 L599.1,594.3 L606.7,594.0 L614.2,593.7 L621.8,593.4 L629.3,593.2 L636.9,592.8 L644.5,592.5 L652.0,591.8 L659.6,591.0 L667.1,590.4 L674.7,590.1 L682.2,590.4 L689.8,591.3 L697.4,592.1 L704.9,592.5 L712.5,592.2 L720.0,591.7 L727.6,590.9 L735.1,590.1 L742.7,589.1 L750.3,588.0 L757.8,586.7 L765.4,585.4 L772.9,583.9 L780.5,582.0 L788.1,580.0 L795.6,578.0 L803.2,576.2 L810.7,574.7 L818.3,573.7 L825.8,573.3 L833.4,573.4 L841.0,573.6 L848.5,574.0 L856.1,574.5 L863.6,575.1 L871.2,575.8 L878.7,576.5 L886.3,577.3 L893.9,578.4 L901.4,580.0 L909.0,581.9 L916.5,584.0 L924.1,586.2 L931.6,588.4 L939.2,590.3 L946.8,592.0 L954.3,593.4 L961.9,594.8 L969.4,596.2 L977.0,597.5 L984.6,598.7 L992.1,599.8 L999.7,600.7 L1007.2,601.3 L1014.8,601.8 L1022.3,602.3 L1029.9,602.7 L1037.5,603.1 L1045.0,603.4 L1052.6,603.6 L1060.1,603.8 L1067.7,604.0 L1075.2,604.1 L1082.8,604.1" fill="none" stroke="#0dd145" stroke-width="4.7" stroke-dasharray="8.5 11.5" stroke-dashoffset="4" clip-path="url(#pc)"/>
<g fill="none" stroke="#0dd145" stroke-width="1.1"><circle cx="221.2" cy="693.2" r="6.4"/><circle cx="281.7" cy="679.9" r="6.4"/><circle cx="342.2" cy="645.6" r="6.4"/><circle cx="402.6" cy="625.2" r="6.4"/><circle cx="463.1" cy="614.4" r="6.4"/><circle cx="523.5" cy="601.4" r="6.4"/><circle cx="584.0" cy="595.0" r="6.4"/><circle cx="644.5" cy="592.5" r="6.4"/><circle cx="704.9" cy="592.5" r="6.4"/><circle cx="765.4" cy="585.4" r="6.4"/><circle cx="825.8" cy="573.3" r="6.4"/><circle cx="886.3" cy="577.3" r="6.4"/><circle cx="946.8" cy="592.0" r="6.4"/><circle cx="1007.2" cy="601.3" r="6.4"/><circle cx="1067.7" cy="604.0" r="6.4"/></g>
<path d="M191.0,85.3 L198.6,86.0 L206.1,87.1 L213.7,88.4 L221.2,89.9 L228.8,91.6 L236.3,93.6 L243.9,96.1 L251.5,99.1 L259.0,103.1 L266.6,108.4 L274.1,114.7 L281.7,121.6 L289.2,129.5 L296.8,138.9 L304.4,149.6 L311.9,161.5 L319.5,175.8 L327.0,192.9 L334.6,210.8 L342.2,227.7 L349.7,243.3 L357.3,258.5 L364.8,273.6 L372.4,289.0 L379.9,305.1 L387.5,321.5 L395.1,337.8 L402.6,353.5 L410.2,368.7 L417.7,383.8 L425.3,397.9 L432.8,410.2 L440.4,420.8 L448.0,430.3 L455.5,439.0 L463.1,447.0 L470.6,454.7 L478.2,462.1 L485.7,468.6 L493.3,473.5 L500.9,476.9 L508.4,479.6 L516.0,482.0 L523.5,484.6 L531.1,487.7 L538.7,490.6 L546.2,492.9 L553.8,494.7 L561.3,496.5 L568.9,498.1 L576.4,499.7 L584.0,501.4 L591.6,503.7 L599.1,507.8 L606.7,512.2 L614.2,515.3 L621.8,518.1 L629.3,521.0 L636.9,524.1 L644.5,527.5 L652.0,531.6 L659.6,535.9 L667.1,539.5 L674.7,542.7 L682.2,545.0 L689.8,547.0 L697.4,548.5 L704.9,549.2 L712.5,548.9 L720.0,548.6 L727.6,550.2 L735.1,554.5 L742.7,558.3 L750.3,562.0 L757.8,565.7 L765.4,569.2 L772.9,572.6 L780.5,576.0 L788.1,579.1 L795.6,581.2 L803.2,582.6 L810.7,583.7 L818.3,584.7 L825.8,585.6 L833.4,586.5 L841.0,587.4 L848.5,588.2 L856.1,589.0 L863.6,589.9 L871.2,590.7 L878.7,591.6 L886.3,592.5 L893.9,593.3 L901.4,594.1 L909.0,595.0 L916.5,596.0 L924.1,597.5 L931.6,599.4 L939.2,601.4 L946.8,603.4 L954.3,605.5 L961.9,607.8 L969.4,609.8 L977.0,611.4 L984.6,612.5 L992.1,613.4 L999.7,614.2 L1007.2,615.1 L1014.8,616.1 L1022.3,617.1 L1029.9,618.2 L1037.5,619.3 L1045.0,620.5 L1052.6,621.7 L1060.1,622.9 L1067.7,624.1 L1075.2,625.4 L1082.8,626.7" fill="none" stroke="#a0a0a0" stroke-width="4.7" stroke-dasharray="8.5 11.5" stroke-dashoffset="4" clip-path="url(#pc)"/>
<g fill="none" stroke="#a0a0a0" stroke-width="1.1"><rect x="184.7" y="79.0" width="12.6" height="12.6"/><rect x="245.2" y="94.0" width="12.6" height="12.6"/><rect x="305.6" y="155.2" width="12.6" height="12.6"/><rect x="366.1" y="282.7" width="12.6" height="12.6"/><rect x="426.5" y="403.9" width="12.6" height="12.6"/><rect x="487.0" y="467.2" width="12.6" height="12.6"/><rect x="547.5" y="490.4" width="12.6" height="12.6"/><rect x="607.9" y="500.7" width="12.6" height="12.6"/><rect x="668.4" y="524.9" width="12.6" height="12.6"/><rect x="728.8" y="550.7" width="12.6" height="12.6"/><rect x="789.3" y="574.9" width="12.6" height="12.6"/><rect x="849.8" y="582.7" width="12.6" height="12.6"/><rect x="910.2" y="589.7" width="12.6" height="12.6"/><rect x="970.7" y="605.1" width="12.6" height="12.6"/><rect x="1031.2" y="613.0" width="12.6" height="12.6"/></g>
<path d="M191.0,85.3 L198.6,86.0 L206.1,87.1 L213.7,88.4 L221.2,89.9 L228.8,91.6 L236.3,93.6 L243.9,96.1 L251.5,99.1 L259.0,103.1 L266.6,108.4 L274.1,114.7 L281.7,121.6 L289.2,129.5 L296.8,138.9 L304.4,149.6 L311.9,161.5 L319.5,175.8 L327.0,192.9 L334.6,210.8 L342.2,227.7 L349.7,243.3 L357.3,258.5 L364.8,273.6 L372.4,289.0 L379.9,305.1 L387.5,321.5 L395.1,337.8 L402.6,353.5 L410.2,368.7 L417.7,383.8 L425.3,397.9 L432.8,410.2 L440.4,420.8 L448.0,430.3 L455.5,439.0 L463.1,447.0 L470.6,454.7 L478.2,462.1 L485.7,468.6 L493.3,473.5 L500.9,476.9 L508.4,479.6 L516.0,482.0 L523.5,484.6 L531.1,487.7 L538.7,490.6 L546.2,492.9 L553.8,494.7 L561.3,496.5 L568.9,498.1 L576.4,499.7 L584.0,501.4 L591.6,503.7 L599.1,507.8 L606.7,512.2 L614.2,515.3 L621.8,518.1 L629.3,521.0 L636.9,524.1 L644.5,527.5 L652.0,531.6 L659.6,535.9 L667.1,539.5 L674.7,542.7 L682.2,545.0 L689.8,546.5 L697.4,547.7 L704.9,549.2 L712.5,551.1 L720.0,553.4 L727.6,556.3 L735.1,559.7 L742.7,563.4 L750.3,567.3 L757.8,571.2 L765.4,575.3 L772.9,579.1 L780.5,582.1 L788.1,584.8 L795.6,587.0 L803.2,588.8 L810.7,590.4 L818.3,591.8 L825.8,593.3 L833.4,594.8 L841.0,596.4 L848.5,597.9 L856.1,599.3 L863.6,600.7 L871.2,602.1 L878.7,603.3 L886.3,604.0 L893.9,604.2 L901.4,604.4 L909.0,604.5 L916.5,604.6 L924.1,604.7 L931.6,604.9 L939.2,605.0 L946.8,605.3 L954.3,605.8 L961.9,606.8 L969.4,608.1 L977.0,609.6 L984.6,611.2 L992.1,612.7 L999.7,614.1 L1007.2,615.2 L1014.8,616.1 L1022.3,616.8 L1029.9,617.4 L1037.5,618.0 L1045.0,618.7 L1052.6,619.4 L1060.1,620.2 L1067.7,621.2 L1075.2,622.8 L1082.8,624.7" fill="none" stroke="#a0a0a0" stroke-width="4.7" stroke-dasharray="8.5 11.5" stroke-dashoffset="4" clip-path="url(#pc)"/>
<g fill="none" stroke="#a0a0a0" stroke-width="1.1"><circle cx="221.2" cy="92.0" r="6.4"/><circle cx="281.7" cy="121.6" r="6.4"/><circle cx="342.2" cy="227.7" r="6.4"/><circle cx="402.6" cy="353.5" r="6.4"/><circle cx="463.1" cy="447.0" r="6.4"/><circle cx="523.5" cy="484.6" r="6.4"/><circle cx="584.0" cy="501.3" r="6.4"/><circle cx="644.5" cy="527.5" r="6.4"/><circle cx="704.9" cy="549.2" r="6.4"/><circle cx="765.4" cy="575.5" r="6.4"/><circle cx="825.8" cy="593.3" r="6.4"/><circle cx="886.3" cy="604.0" r="6.4"/><circle cx="946.8" cy="605.3" r="6.4"/><circle cx="1007.2" cy="615.2" r="6.4"/><circle cx="1067.7" cy="621.2" r="6.4"/></g>
<path d="M191.0,729.5 L198.6,729.3 L206.1,729.2 L213.7,729.0 L221.2,728.8 L228.8,728.6 L236.3,728.5 L243.9,728.3 L251.5,728.1 L259.0,728.0 L266.6,727.8 L274.1,727.6 L281.7,727.4 L289.2,727.3 L296.8,727.1 L304.4,726.9 L311.9,726.8 L319.5,726.5 L327.0,726.3 L334.6,726.0 L342.2,725.7 L349.7,725.5 L357.3,725.2 L364.8,724.9 L372.4,724.7 L379.9,724.5 L387.5,724.4 L395.1,724.2 L402.6,724.0 L410.2,723.7 L417.7,723.3 L425.3,722.8 L432.8,722.4 L440.4,722.1 L448.0,721.9 L455.5,721.6 L463.1,721.2 L470.6,720.7 L478.2,720.0 L485.7,719.3 L493.3,718.6 L500.9,717.9 L508.4,717.3 L516.0,716.6 L523.5,716.0 L531.1,715.5 L538.7,715.1 L546.2,714.6 L553.8,713.9 L561.3,712.5 L568.9,710.5 L576.4,708.5 L584.0,707.6 L591.6,707.4 L599.1,707.4 L606.7,707.3 L614.2,707.2 L621.8,706.9 L629.3,706.5 L636.9,706.0 L644.5,705.3 L652.0,704.6 L659.6,703.9 L667.1,703.3 L674.7,702.6 L682.2,702.0 L689.8,701.2 L697.4,700.4 L704.9,699.6 L712.5,698.9 L720.0,698.3 L727.6,697.9 L735.1,697.8 L742.7,697.8 L750.3,697.9 L757.8,698.1 L765.4,698.2 L772.9,698.4 L780.5,698.5 L788.1,698.6 L795.6,698.7 L803.2,698.6 L810.7,698.6 L818.3,698.5 L825.8,698.3 L833.4,698.2 L841.0,698.0 L848.5,697.8 L856.1,697.6 L863.6,697.4 L871.2,697.2 L878.7,696.9 L886.3,696.6 L893.9,696.3 L901.4,696.0 L909.0,695.6 L916.5,695.2 L924.1,694.8 L931.6,694.2 L939.2,693.6 L946.8,693.0 L954.3,692.4 L961.9,691.9 L969.4,691.6 L977.0,691.5 L984.6,691.5 L992.1,691.7 L999.7,692.0 L1007.2,692.4 L1014.8,692.8 L1022.3,693.2 L1029.9,693.6 L1037.5,693.9 L1045.0,694.1 L1052.6,694.4 L1060.1,694.6 L1067.7,694.8 L1075.2,695.0 L1082.8,695.2" fill="none" stroke="#0000ff" stroke-width="4.7" stroke-dasharray="8.5 11.5" stroke-dashoffset="4" clip-path="url(#pc)"/>
<g fill="none" stroke="#0000ff" stroke-width="1.1"><rect x="184.7" y="723.2" width="12.6" height="12.6"/><rect x="245.2" y="721.8" width="12.6" height="12.6"/><rect x="305.6" y="720.5" width="12.6" height="12.6"/><rect x="366.1" y="718.4" width="12.6" height="12.6"/><rect x="426.5" y="716.1" width="12.6" height="12.6"/><rect x="487.0" y="712.3" width="12.6" height="12.6"/><rect x="547.5" y="707.6" width="12.6" height="12.6"/><rect x="607.9" y="700.9" width="12.6" height="12.6"/><rect x="668.4" y="696.3" width="12.6" height="12.6"/><rect x="728.8" y="691.5" width="12.6" height="12.6"/><rect x="789.3" y="692.4" width="12.6" height="12.6"/><rect x="849.8" y="691.3" width="12.6" height="12.6"/><rect x="910.2" y="688.9" width="12.6" height="12.6"/><rect x="970.7" y="685.2" width="12.6" height="12.6"/><rect x="1031.2" y="687.6" width="12.6" height="12.6"/></g>
<path d="M191.0,729.5 L198.6,729.3 L206.1,729.2 L213.7,729.0 L221.2,728.8 L228.8,728.6 L236.3,728.5 L243.9,728.3 L251.5,728.1 L259.0,728.0 L266.6,727.8 L274.1,727.6 L281.7,727.4 L289.2,727.3 L296.8,727.1 L304.4,726.9 L311.9,726.8 L319.5,726.5 L327.0,726.3 L334.6,726.0 L342.2,725.7 L349.7,725.5 L357.3,725.2 L364.8,724.9 L372.4,724.7 L379.9,724.5 L387.5,724.4 L395.1,724.2 L402.6,724.0 L410.2,723.7 L417.7,723.3 L425.3,722.8 L432.8,722.4 L440.4,722.1 L448.0,721.9 L455.5,721.6 L463.1,721.2 L470.6,720.7 L478.2,720.0 L485.7,719.3 L493.3,718.6 L500.9,717.9 L508.4,717.3 L516.0,716.6 L523.5,716.0 L531.1,715.5 L538.7,715.1 L546.2,714.6 L553.8,713.9 L561.3,712.5 L568.9,710.5 L576.4,708.5 L584.0,707.6 L591.6,707.4 L599.1,707.3 L606.7,707.2 L614.2,707.2 L621.8,707.1 L629.3,707.0 L636.9,707.0 L644.5,706.9 L652.0,706.7 L659.6,706.4 L667.1,705.9 L674.7,705.4 L682.2,704.9 L689.8,704.4 L697.4,703.9 L704.9,703.5 L712.5,703.2 L720.0,702.8 L727.6,702.4 L735.1,702.1 L742.7,701.7 L750.3,701.5 L757.8,701.3 L765.4,701.3 L772.9,701.4 L780.5,701.8 L788.1,702.3 L795.6,702.8 L803.2,703.4 L810.7,703.9 L818.3,704.3 L825.8,704.4 L833.4,704.4 L841.0,704.4 L848.5,704.4 L856.1,704.4 L863.6,704.4 L871.2,704.4 L878.7,704.4 L886.3,704.4 L893.9,704.2 L901.4,703.6 L909.0,702.8 L916.5,701.9 L924.1,700.9 L931.6,700.1 L939.2,699.5 L946.8,699.3 L954.3,699.3 L961.9,699.3 L969.4,699.3 L977.0,699.3 L984.6,699.3 L992.1,699.3 L999.7,699.3 L1007.2,699.3 L1014.8,699.2 L1022.3,699.1 L1029.9,698.9 L1037.5,698.6 L1045.0,698.4 L1052.6,698.2 L1060.1,698.0 L1067.7,698.0 L1075.2,698.0 L1082.8,698.0" fill="none" stroke="#0000ff" stroke-width="4.7" stroke-dasharray="8.5 11.5" stroke-dashoffset="4" clip-path="url(#pc)"/>
<g fill="none" stroke="#0000ff" stroke-width="1.1"><circle cx="221.2" cy="728.8" r="6.4"/><circle cx="281.7" cy="727.4" r="6.4"/><circle cx="342.2" cy="725.7" r="6.4"/><circle cx="402.6" cy="724.0" r="6.4"/><circle cx="463.1" cy="721.2" r="6.4"/><circle cx="523.5" cy="716.0" r="6.4"/><circle cx="584.0" cy="707.6" r="6.4"/><circle cx="644.5" cy="706.9" r="6.4"/><circle cx="704.9" cy="703.5" r="6.4"/><circle cx="765.4" cy="701.3" r="6.4"/><circle cx="825.8" cy="704.4" r="6.4"/><circle cx="886.3" cy="704.4" r="6.4"/><circle cx="946.8" cy="699.3" r="6.4"/><circle cx="1007.2" cy="699.3" r="6.4"/><circle cx="1067.7" cy="698.0" r="6.4"/></g>
</g>
<rect x="191.0" y="44.3" width="891.8" height="685.2" stroke="#000" stroke-width="1.6" fill="none" stroke-opacity="0.88"/>
<g stroke="#000" stroke-width="1.2" fill="none" stroke-opacity="0.9">
<path d="M342.2,729.5 v-12.5 M342.2,44.3 v12.5"/>
<path d="M493.3,729.5 v-12.5 M493.3,44.3 v12.5"/>
<path d="M644.5,729.5 v-12.5 M644.5,44.3 v12.5"/>
<path d="M795.6,729.5 v-12.5 M795.6,44.3 v12.5"/>
<path d="M946.8,729.5 v-12.5 M946.8,44.3 v12.5"/>
<path d="M191.0,592.5 h12.5 M1082.8,592.5 h-12.5"/>
<path d="M191.0,455.4 h12.5 M1082.8,455.4 h-12.5"/>
<path d="M191.0,318.4 h12.5 M1082.8,318.4 h-12.5"/>
<path d="M191.0,181.3 h12.5 M1082.8,181.3 h-12.5"/>
</g>
<g font-size="43" fill="#000">
<text transform="translate(163.8,741.4) scale(1,1.02)" font-size="45.3" text-anchor="end">0</text>
<text transform="translate(163.8,604.4) scale(1,1.02)" font-size="45.3" text-anchor="end">0.2</text>
<text transform="translate(163.8,467.3) scale(1,1.02)" font-size="45.3" text-anchor="end">0.4</text>
<text transform="translate(163.8,330.3) scale(1,1.02)" font-size="45.3" text-anchor="end">0.6</text>
<text transform="translate(163.8,193.2) scale(1,1.02)" font-size="45.3" text-anchor="end">0.8</text>
<text transform="translate(163.8,56.2) scale(1,1.02)" font-size="45.3" text-anchor="end">1</text>
<text transform="translate(190.7,786.2) scale(1,1.02)" font-size="45.3" text-anchor="middle">0</text>
<text transform="translate(341.9,786.2) scale(1,1.02)" font-size="45.3" text-anchor="middle">10</text>
<text transform="translate(493.0,786.2) scale(1,1.02)" font-size="45.3" text-anchor="middle">20</text>
<text transform="translate(644.2,786.2) scale(1,1.02)" font-size="45.3" text-anchor="middle">30</text>
<text transform="translate(795.3,786.2) scale(1,1.02)" font-size="45.3" text-anchor="middle">40</text>
<text transform="translate(946.5,786.2) scale(1,1.02)" font-size="45.3" text-anchor="middle">50</text>
<text x="593.4" y="851.6" font-style="italic">t</text>
<text x="619.6" y="851.6">[fs]</text>
<text transform="translate(52.8,389.2) rotate(-90) scale(1.0116,1)" font-size="43" text-anchor="middle">Adiabatic populations</text>
<text x="644.6" y="90.6" font-size="44.5" text-anchor="end">MCTDH</text>
<text x="644.6" y="134.6" font-size="44.5" text-anchor="end">QTSHXF</text>
<text x="644.6" y="178.6" font-size="44.5" text-anchor="end">QTSHXF0</text>
</g>
<path d="M670.8,78.5 H789.4" stroke="#800000" stroke-width="5.3" fill="none"/>
<rect x="723.1" y="116.8" width="13.6" height="13.6" fill="#ff0000"/>
<circle cx="729.9" cy="167.9" r="6.3" fill="#ff0000"/>
<text x="342.2" y="124.1" font-size="43.8" fill="#000000">D<tspan font-size="33" dx="0.8" dy="6.8">2</tspan></text>
<text x="1007.2" y="226.9" font-size="43.8" fill="#ff0000">D<tspan font-size="33" dx="0.8" dy="6.8">0</tspan></text>
<text x="1007.2" y="535.2" font-size="43.8" fill="#0f9d58">D<tspan font-size="33" dx="0.8" dy="6.8">1</tspan></text>
<text x="720.0" y="672.3" font-size="43.8" fill="#0000ff">D<tspan font-size="33" dx="0.8" dy="6.8">3</tspan></text>
</svg>
</body></html>
